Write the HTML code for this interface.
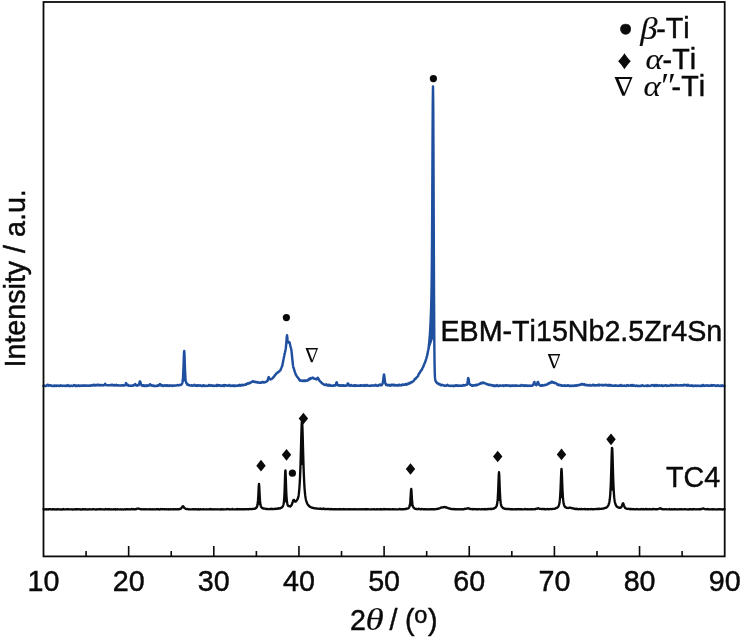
<!DOCTYPE html>
<html lang="en"><head><meta charset="utf-8"><title>XRD patterns</title>
<style>
html,body{margin:0;padding:0;background:#fff;}
body{width:745px;height:639px;overflow:hidden;}
svg{display:block;}
text{font-family:"Liberation Sans",sans-serif;fill:#0a0a0a;font-kerning:none;stroke:#0a0a0a;stroke-width:0.45px;}
.gr{font-family:"Liberation Serif","DejaVu Serif",serif;font-style:italic;}
.sym{font-family:"Liberation Serif","DejaVu Serif",serif;}
</style></head><body>
<svg width="745" height="639" viewBox="0 0 745 639">
<rect x="0" y="0" width="745" height="639" fill="#fff"/>
<path d="M43.50,385.76 L43.75,385.58 L44.00,385.54 L44.25,385.83 L44.50,385.90 L44.75,385.87 L45.00,385.86 L45.25,385.80 L45.50,385.97 L45.75,385.89 L46.00,386.00 L46.25,385.96 L46.50,385.73 L46.75,385.62 L47.00,385.45 L47.25,385.22 L47.50,384.77 L47.75,384.97 L48.00,384.82 L48.25,385.21 L48.50,385.47 L48.75,385.77 L49.00,385.36 L49.25,385.49 L49.50,385.43 L49.75,385.42 L50.00,385.18 L50.25,385.55 L50.50,385.47 L50.75,385.33 L51.00,385.50 L51.25,385.63 L51.50,385.71 L51.75,385.94 L52.00,385.90 L52.25,385.88 L52.50,385.95 L52.75,385.93 L53.00,385.68 L53.25,385.80 L53.50,385.93 L53.75,385.77 L54.00,385.91 L54.25,385.84 L54.50,385.97 L54.75,385.85 L55.00,385.44 L55.25,385.81 L55.50,385.82 L55.75,385.60 L56.00,385.99 L56.25,385.99 L56.50,385.80 L56.75,385.70 L57.00,385.54 L57.25,385.63 L57.50,385.71 L57.75,385.79 L58.00,385.88 L58.25,385.64 L58.50,385.65 L58.75,385.58 L59.00,385.83 L59.25,385.98 L59.50,385.99 L59.75,385.95 L60.00,385.89 L60.25,385.58 L60.50,385.29 L60.75,385.51 L61.00,385.88 L61.25,385.89 L61.50,385.80 L61.75,385.79 L62.00,385.81 L62.25,385.77 L62.50,385.97 L62.75,385.96 L63.00,385.83 L63.25,385.81 L63.50,385.87 L63.75,385.75 L64.00,385.80 L64.25,385.65 L64.50,385.89 L64.75,385.95 L65.00,385.75 L65.25,385.63 L65.50,385.61 L65.75,385.63 L66.00,385.75 L66.25,385.64 L66.50,385.99 L66.75,385.87 L67.00,385.62 L67.25,385.26 L67.50,385.10 L67.75,385.17 L68.00,385.13 L68.25,385.84 L68.50,385.92 L68.75,385.98 L69.00,385.78 L69.25,385.72 L69.50,385.82 L69.75,385.93 L70.00,385.81 L70.25,385.75 L70.50,385.95 L70.75,385.97 L71.00,385.96 L71.25,385.70 L71.50,385.65 L71.75,385.68 L72.00,385.87 L72.25,385.90 L72.50,385.87 L72.75,385.95 L73.00,385.88 L73.25,385.54 L73.50,385.31 L73.75,385.35 L74.00,385.08 L74.25,385.25 L74.50,385.29 L74.75,385.63 L75.00,385.41 L75.25,385.94 L75.50,385.81 L75.75,385.84 L76.00,385.93 L76.25,385.60 L76.50,385.75 L76.75,385.82 L77.00,385.57 L77.25,385.96 L77.50,385.89 L77.75,385.81 L78.00,385.84 L78.25,385.73 L78.50,385.79 L78.75,385.36 L79.00,385.68 L79.25,385.66 L79.50,385.92 L79.75,385.80 L80.00,385.69 L80.25,385.90 L80.50,385.83 L80.75,385.65 L81.00,385.58 L81.25,385.65 L81.50,385.46 L81.75,385.41 L82.00,385.70 L82.25,385.65 L82.50,385.51 L82.75,385.81 L83.00,385.61 L83.25,385.65 L83.50,385.73 L83.75,385.80 L84.00,385.42 L84.25,385.29 L84.50,385.55 L84.75,385.59 L85.00,385.57 L85.25,385.79 L85.50,385.73 L85.75,385.70 L86.00,385.48 L86.25,385.40 L86.50,385.55 L86.75,385.55 L87.00,385.62 L87.25,385.81 L87.50,385.71 L87.75,385.61 L88.00,385.81 L88.25,385.70 L88.50,385.67 L88.75,385.75 L89.00,385.55 L89.25,385.53 L89.50,385.41 L89.75,385.47 L90.00,385.72 L90.25,385.75 L90.50,385.70 L90.75,385.72 L91.00,385.58 L91.25,385.18 L91.50,385.20 L91.75,385.20 L92.00,385.25 L92.25,385.07 L92.50,385.43 L92.75,385.41 L93.00,385.48 L93.25,385.24 L93.50,385.16 L93.75,384.67 L94.00,385.02 L94.25,385.41 L94.50,385.41 L94.75,385.37 L95.00,385.09 L95.25,385.44 L95.50,385.44 L95.75,384.91 L96.00,385.13 L96.25,385.13 L96.50,384.93 L96.75,385.22 L97.00,385.44 L97.25,385.12 L97.50,385.07 L97.75,384.93 L98.00,384.62 L98.25,384.86 L98.50,385.12 L98.75,385.21 L99.00,385.21 L99.25,385.38 L99.50,385.10 L99.75,384.94 L100.00,384.90 L100.25,384.93 L100.50,385.11 L100.75,385.34 L101.00,385.09 L101.25,385.37 L101.50,385.07 L101.75,385.14 L102.00,385.20 L102.25,385.08 L102.50,385.24 L102.75,385.21 L103.00,385.21 L103.25,385.22 L103.50,385.43 L103.75,385.14 L104.00,385.27 L104.25,385.19 L104.50,385.05 L104.75,384.74 L105.00,383.94 L105.25,383.85 L105.50,384.48 L105.75,384.61 L106.00,384.76 L106.25,385.17 L106.50,385.32 L106.75,385.25 L107.00,385.25 L107.25,385.33 L107.50,385.15 L107.75,385.21 L108.00,385.14 L108.25,385.11 L108.50,385.29 L108.75,385.20 L109.00,385.31 L109.25,385.38 L109.50,385.14 L109.75,385.31 L110.00,385.22 L110.25,385.10 L110.50,385.22 L110.75,385.10 L111.00,385.16 L111.25,385.02 L111.50,384.72 L111.75,385.33 L112.00,385.12 L112.25,385.19 L112.50,385.07 L112.75,384.81 L113.00,385.24 L113.25,385.17 L113.50,385.40 L113.75,385.45 L114.00,385.26 L114.25,384.94 L114.50,385.01 L114.75,385.30 L115.00,385.25 L115.25,385.42 L115.50,385.44 L115.75,385.26 L116.00,385.08 L116.25,384.74 L116.50,384.99 L116.75,385.21 L117.00,385.42 L117.25,385.51 L117.50,385.29 L117.75,385.24 L118.00,385.21 L118.25,385.28 L118.50,385.41 L118.75,385.40 L119.00,385.42 L119.25,385.40 L119.50,385.37 L119.75,385.46 L120.00,385.42 L120.25,385.50 L120.50,385.42 L120.75,385.45 L121.00,385.61 L121.25,385.60 L121.50,385.21 L121.75,385.24 L122.00,385.14 L122.25,385.34 L122.50,385.18 L122.75,385.58 L123.00,385.41 L123.25,385.31 L123.50,385.57 L123.75,385.40 L124.00,385.49 L124.25,385.31 L124.50,385.42 L124.75,385.24 L125.00,385.20 L125.25,384.97 L125.50,384.48 L125.75,383.81 L126.00,383.12 L126.25,383.38 L126.50,384.35 L126.75,384.89 L127.00,385.30 L127.25,385.26 L127.50,385.08 L127.75,385.25 L128.00,384.76 L128.25,385.01 L128.50,385.41 L128.75,385.71 L129.00,385.76 L129.25,385.68 L129.50,385.71 L129.75,385.78 L130.00,385.69 L130.25,385.80 L130.50,385.64 L130.75,385.43 L131.00,385.64 L131.25,385.82 L131.50,385.78 L131.75,385.83 L132.00,385.77 L132.25,385.83 L132.50,385.79 L132.75,385.39 L133.00,385.27 L133.25,385.29 L133.50,385.57 L133.75,385.57 L134.00,385.28 L134.25,384.84 L134.50,384.82 L134.75,384.91 L135.00,384.32 L135.25,383.98 L135.50,384.35 L135.75,384.58 L136.00,384.96 L136.25,385.57 L136.50,385.32 L136.75,385.43 L137.00,385.53 L137.25,385.66 L137.50,385.37 L137.75,385.10 L138.00,385.22 L138.25,385.15 L138.50,385.23 L138.75,385.22 L139.00,384.39 L139.25,383.77 L139.50,382.46 L139.75,381.60 L140.00,381.34 L140.25,381.83 L140.50,382.77 L140.75,383.43 L141.00,384.32 L141.25,384.80 L141.50,385.14 L141.75,385.55 L142.00,385.68 L142.25,385.49 L142.50,385.59 L142.75,385.65 L143.00,385.42 L143.25,385.78 L143.50,385.62 L143.75,385.88 L144.00,385.67 L144.25,385.89 L144.50,385.79 L144.75,385.42 L145.00,385.88 L145.25,385.69 L145.50,385.59 L145.75,385.75 L146.00,385.46 L146.25,385.91 L146.50,385.56 L146.75,385.83 L147.00,385.48 L147.25,385.54 L147.50,385.30 L147.75,385.78 L148.00,385.74 L148.25,385.61 L148.50,385.48 L148.75,385.61 L149.00,385.61 L149.25,385.54 L149.50,384.97 L149.75,384.64 L150.00,384.16 L150.25,384.28 L150.50,384.79 L150.75,385.17 L151.00,385.26 L151.25,385.12 L151.50,385.25 L151.75,385.58 L152.00,385.37 L152.25,385.57 L152.50,385.69 L152.75,385.53 L153.00,385.53 L153.25,385.72 L153.50,385.91 L153.75,385.94 L154.00,385.70 L154.25,385.89 L154.50,385.93 L154.75,385.82 L155.00,385.93 L155.25,385.95 L155.50,385.92 L155.75,385.94 L156.00,385.81 L156.25,385.85 L156.50,385.91 L156.75,385.76 L157.00,385.94 L157.25,385.65 L157.50,385.75 L157.75,385.38 L158.00,385.20 L158.25,385.19 L158.50,385.68 L158.75,385.25 L159.00,385.17 L159.25,385.20 L159.50,384.71 L159.75,384.17 L160.00,384.06 L160.25,384.36 L160.50,385.01 L160.75,385.38 L161.00,385.55 L161.25,385.59 L161.50,385.54 L161.75,385.13 L162.00,385.61 L162.25,385.48 L162.50,385.71 L162.75,385.92 L163.00,385.60 L163.25,385.93 L163.50,385.53 L163.75,385.76 L164.00,385.86 L164.25,385.65 L164.50,385.40 L164.75,385.20 L165.00,385.53 L165.25,385.64 L165.50,385.57 L165.75,385.75 L166.00,385.86 L166.25,385.21 L166.50,385.47 L166.75,385.53 L167.00,385.78 L167.25,385.33 L167.50,385.79 L167.75,385.42 L168.00,385.44 L168.25,385.50 L168.50,385.84 L168.75,385.82 L169.00,385.93 L169.25,385.76 L169.50,385.44 L169.75,385.29 L170.00,385.34 L170.25,385.48 L170.50,385.62 L170.75,385.67 L171.00,385.67 L171.25,385.91 L171.50,385.57 L171.75,385.39 L172.00,385.51 L172.25,385.51 L172.50,385.85 L172.75,385.48 L173.00,385.49 L173.25,385.44 L173.50,385.56 L173.75,385.64 L174.00,385.82 L174.25,385.79 L174.50,385.84 L174.75,385.55 L175.00,385.52 L175.25,385.37 L175.50,385.44 L175.75,385.56 L176.00,385.47 L176.25,385.52 L176.50,385.36 L176.75,385.19 L177.00,385.13 L177.25,384.98 L177.50,384.97 L177.75,385.22 L178.00,385.28 L178.25,385.23 L178.50,385.51 L178.75,385.28 L179.00,385.17 L179.25,385.05 L179.50,385.10 L179.75,384.89 L180.00,385.04 L180.25,385.03 L180.50,385.01 L180.75,384.79 L181.00,384.84 L181.25,384.44 L181.50,384.26 L181.75,384.03 L182.00,383.75 L182.25,383.10 L182.50,382.04 L182.75,380.51 L183.00,377.65 L183.25,373.23 L183.50,367.05 L183.75,359.55 L184.00,353.01 L184.25,350.98 L184.50,355.10 L184.75,362.43 L185.00,369.56 L185.25,374.98 L185.50,378.92 L185.75,380.73 L186.00,382.10 L186.25,382.92 L186.50,383.04 L186.75,383.31 L187.00,384.27 L187.25,384.34 L187.50,384.82 L187.75,384.68 L188.00,384.39 L188.25,384.73 L188.50,384.78 L188.75,385.12 L189.00,385.36 L189.25,385.20 L189.50,385.33 L189.75,385.43 L190.00,385.43 L190.25,385.47 L190.50,385.58 L190.75,385.54 L191.00,385.47 L191.25,385.48 L191.50,385.28 L191.75,385.34 L192.00,385.42 L192.25,385.72 L192.50,385.43 L192.75,385.47 L193.00,385.52 L193.25,385.52 L193.50,385.41 L193.75,385.64 L194.00,385.44 L194.25,385.30 L194.50,384.84 L194.75,385.09 L195.00,385.32 L195.25,385.50 L195.50,385.56 L195.75,385.84 L196.00,385.65 L196.25,385.51 L196.50,385.42 L196.75,385.63 L197.00,385.76 L197.25,385.92 L197.50,385.22 L197.75,385.14 L198.00,385.19 L198.25,385.17 L198.50,385.57 L198.75,385.79 L199.00,385.68 L199.25,385.39 L199.50,385.56 L199.75,385.47 L200.00,385.43 L200.25,385.35 L200.50,385.71 L200.75,385.42 L201.00,385.59 L201.25,385.66 L201.50,385.94 L201.75,385.79 L202.00,385.87 L202.25,385.94 L202.50,385.81 L202.75,385.91 L203.00,385.65 L203.25,385.19 L203.50,385.65 L203.75,385.90 L204.00,385.93 L204.25,385.96 L204.50,385.50 L204.75,385.73 L205.00,385.62 L205.25,385.88 L205.50,385.94 L205.75,385.84 L206.00,385.76 L206.25,385.68 L206.50,385.89 L206.75,385.88 L207.00,385.86 L207.25,385.92 L207.50,385.96 L207.75,385.80 L208.00,385.89 L208.25,385.84 L208.50,385.38 L208.75,385.18 L209.00,385.06 L209.25,384.94 L209.50,384.88 L209.75,385.31 L210.00,385.84 L210.25,385.84 L210.50,385.79 L210.75,385.73 L211.00,385.46 L211.25,385.37 L211.50,385.47 L211.75,385.25 L212.00,385.38 L212.25,385.71 L212.50,385.87 L212.75,385.90 L213.00,385.82 L213.25,385.96 L213.50,385.89 L213.75,385.60 L214.00,385.86 L214.25,385.77 L214.50,385.79 L214.75,385.80 L215.00,385.94 L215.25,385.86 L215.50,385.58 L215.75,385.53 L216.00,385.52 L216.25,385.94 L216.50,385.89 L216.75,385.63 L217.00,385.31 L217.25,384.87 L217.50,385.37 L217.75,385.61 L218.00,385.37 L218.25,385.41 L218.50,385.66 L218.75,385.71 L219.00,385.30 L219.25,385.21 L219.50,385.20 L219.75,385.19 L220.00,385.47 L220.25,385.70 L220.50,385.92 L220.75,385.90 L221.00,385.90 L221.25,385.76 L221.50,385.78 L221.75,385.88 L222.00,385.67 L222.25,385.49 L222.50,385.44 L222.75,385.69 L223.00,385.20 L223.25,385.56 L223.50,385.66 L223.75,385.97 L224.00,385.58 L224.25,385.16 L224.50,385.70 L224.75,385.91 L225.00,385.64 L225.25,385.19 L225.50,385.20 L225.75,385.17 L226.00,385.39 L226.25,385.34 L226.50,385.48 L226.75,385.45 L227.00,385.75 L227.25,385.68 L227.50,385.85 L227.75,385.69 L228.00,385.40 L228.25,385.45 L228.50,385.80 L228.75,385.71 L229.00,385.36 L229.25,384.94 L229.50,385.05 L229.75,385.12 L230.00,385.49 L230.25,385.74 L230.50,385.92 L230.75,385.78 L231.00,385.85 L231.25,385.84 L231.50,385.66 L231.75,385.64 L232.00,385.93 L232.25,385.86 L232.50,385.89 L232.75,385.60 L233.00,385.41 L233.25,385.95 L233.50,385.93 L233.75,385.83 L234.00,385.88 L234.25,385.98 L234.50,385.51 L234.75,385.59 L235.00,385.74 L235.25,385.88 L235.50,385.64 L235.75,385.70 L236.00,385.70 L236.25,385.59 L236.50,385.80 L236.75,385.64 L237.00,385.71 L237.25,385.86 L237.50,385.62 L237.75,385.79 L238.00,385.86 L238.25,385.70 L238.50,385.80 L238.75,385.28 L239.00,385.25 L239.25,385.08 L239.50,384.85 L239.75,385.06 L240.00,385.47 L240.25,385.75 L240.50,385.50 L240.75,385.63 L241.00,385.60 L241.25,385.35 L241.50,384.82 L241.75,384.91 L242.00,385.04 L242.25,384.79 L242.50,385.05 L242.75,385.22 L243.00,385.18 L243.25,385.28 L243.50,385.10 L243.75,385.17 L244.00,384.87 L244.25,384.80 L244.50,384.68 L244.75,384.65 L245.00,384.84 L245.25,384.87 L245.50,384.66 L245.75,384.54 L246.00,384.13 L246.25,384.58 L246.50,384.44 L246.75,384.30 L247.00,383.86 L247.25,383.97 L247.50,383.57 L247.75,383.34 L248.00,383.50 L248.25,383.60 L248.50,383.67 L248.75,383.46 L249.00,383.48 L249.25,383.49 L249.50,382.80 L249.75,382.97 L250.00,382.82 L250.25,382.85 L250.50,382.77 L250.75,382.37 L251.00,382.36 L251.25,382.33 L251.50,382.21 L251.75,381.80 L252.00,381.83 L252.25,381.46 L252.50,381.13 L252.75,381.17 L253.00,381.31 L253.25,381.32 L253.50,381.35 L253.75,381.50 L254.00,381.71 L254.25,381.79 L254.50,381.83 L254.75,382.03 L255.00,381.90 L255.25,382.07 L255.50,381.82 L255.75,381.75 L256.00,382.24 L256.25,382.24 L256.50,382.32 L256.75,382.27 L257.00,382.03 L257.25,382.47 L257.50,382.60 L257.75,382.42 L258.00,382.25 L258.25,382.55 L258.50,382.49 L258.75,382.43 L259.00,382.66 L259.25,382.89 L259.50,382.83 L259.75,382.79 L260.00,382.72 L260.25,382.51 L260.50,382.83 L260.75,382.65 L261.00,382.44 L261.25,382.63 L261.50,382.48 L261.75,382.32 L262.00,382.22 L262.25,382.30 L262.50,382.05 L262.75,381.86 L263.00,382.38 L263.25,382.51 L263.50,382.44 L263.75,382.29 L264.00,382.55 L264.25,382.37 L264.50,382.33 L264.75,382.33 L265.00,382.26 L265.25,382.05 L265.50,381.91 L265.75,382.02 L266.00,381.73 L266.25,381.60 L266.50,381.70 L266.75,381.48 L267.00,381.19 L267.25,380.95 L267.50,380.89 L267.75,380.21 L268.00,379.07 L268.25,378.44 L268.50,377.42 L268.75,377.16 L269.00,377.58 L269.25,378.04 L269.50,378.71 L269.75,379.03 L270.00,379.31 L270.25,379.18 L270.50,379.43 L270.75,379.25 L271.00,379.28 L271.25,379.01 L271.50,379.11 L271.75,378.89 L272.00,378.69 L272.25,378.43 L272.50,378.24 L272.75,378.11 L273.00,377.78 L273.25,377.60 L273.50,376.84 L273.75,376.77 L274.00,376.70 L274.25,376.34 L274.50,375.90 L274.75,375.44 L275.00,375.38 L275.25,375.04 L275.50,374.62 L275.75,374.34 L276.00,374.06 L276.25,373.57 L276.50,373.37 L276.75,373.36 L277.00,373.17 L277.25,373.03 L277.50,372.54 L277.75,372.17 L278.00,372.28 L278.25,372.26 L278.50,372.01 L278.75,371.94 L279.00,371.52 L279.25,371.43 L279.50,371.14 L279.75,370.78 L280.00,370.51 L280.25,370.41 L280.50,370.03 L280.75,369.49 L281.00,368.74 L281.25,368.08 L281.50,367.34 L281.75,366.94 L282.00,366.30 L282.25,365.84 L282.50,364.59 L282.75,363.36 L283.00,362.07 L283.25,360.85 L283.50,359.23 L283.75,358.16 L284.00,356.90 L284.25,355.71 L284.50,354.36 L284.75,353.26 L285.00,352.28 L285.25,351.01 L285.50,350.01 L285.75,348.47 L286.00,346.13 L286.25,343.86 L286.50,340.65 L286.75,337.30 L287.00,335.32 L287.25,336.83 L287.50,339.15 L287.75,340.80 L288.00,341.84 L288.25,342.18 L288.50,342.56 L288.75,342.59 L289.00,342.04 L289.25,341.95 L289.50,342.32 L289.75,343.25 L290.00,344.17 L290.25,345.52 L290.50,346.44 L290.75,347.25 L291.00,348.22 L291.25,349.10 L291.50,350.97 L291.75,353.27 L292.00,355.92 L292.25,358.37 L292.50,360.68 L292.75,363.19 L293.00,365.38 L293.25,366.81 L293.50,367.73 L293.75,368.41 L294.00,369.12 L294.25,369.87 L294.50,370.95 L294.75,371.55 L295.00,372.48 L295.25,373.13 L295.50,373.91 L295.75,374.37 L296.00,374.96 L296.25,375.20 L296.50,375.80 L296.75,376.13 L297.00,376.58 L297.25,376.74 L297.50,377.39 L297.75,377.45 L298.00,377.79 L298.25,378.25 L298.50,378.36 L298.75,378.48 L299.00,379.28 L299.25,379.60 L299.50,380.06 L299.75,380.30 L300.00,380.58 L300.25,380.35 L300.50,380.60 L300.75,380.66 L301.00,380.48 L301.25,380.55 L301.50,380.53 L301.75,380.74 L302.00,380.77 L302.25,381.05 L302.50,381.07 L302.75,381.12 L303.00,380.64 L303.25,381.10 L303.50,381.10 L303.75,381.08 L304.00,381.12 L304.25,380.65 L304.50,380.94 L304.75,380.72 L305.00,380.56 L305.25,380.99 L305.50,380.61 L305.75,380.73 L306.00,380.60 L306.25,380.66 L306.50,380.80 L306.75,380.40 L307.00,380.44 L307.25,380.71 L307.50,380.41 L307.75,380.52 L308.00,380.36 L308.25,380.09 L308.50,379.67 L308.75,378.97 L309.00,379.02 L309.25,378.95 L309.50,379.16 L309.75,379.38 L310.00,378.61 L310.25,378.80 L310.50,378.39 L310.75,378.13 L311.00,378.48 L311.25,378.46 L311.50,378.47 L311.75,378.03 L312.00,378.04 L312.25,377.71 L312.50,377.68 L312.75,377.66 L313.00,377.95 L313.25,377.77 L313.50,378.31 L313.75,378.55 L314.00,378.49 L314.25,378.65 L314.50,378.72 L314.75,378.64 L315.00,378.81 L315.25,378.74 L315.50,379.06 L315.75,379.03 L316.00,379.37 L316.25,379.46 L316.50,379.31 L316.75,379.15 L317.00,378.52 L317.25,378.74 L317.50,378.51 L317.75,377.71 L318.00,377.89 L318.25,378.52 L318.50,378.72 L318.75,379.33 L319.00,380.22 L319.25,380.34 L319.50,380.74 L319.75,380.99 L320.00,381.29 L320.25,381.39 L320.50,381.76 L320.75,381.74 L321.00,382.05 L321.25,382.57 L321.50,382.99 L321.75,383.10 L322.00,383.05 L322.25,383.17 L322.50,383.54 L322.75,383.82 L323.00,383.93 L323.25,384.08 L323.50,384.25 L323.75,384.36 L324.00,384.57 L324.25,384.58 L324.50,384.77 L324.75,384.66 L325.00,384.63 L325.25,385.06 L325.50,385.08 L325.75,384.85 L326.00,384.74 L326.25,384.55 L326.50,384.38 L326.75,384.76 L327.00,385.32 L327.25,385.25 L327.50,385.51 L327.75,385.37 L328.00,385.54 L328.25,385.69 L328.50,385.29 L328.75,384.74 L329.00,384.85 L329.25,384.91 L329.50,384.87 L329.75,384.97 L330.00,385.54 L330.25,385.78 L330.50,385.78 L330.75,385.56 L331.00,385.44 L331.25,385.58 L331.50,385.66 L331.75,385.83 L332.00,385.68 L332.25,385.69 L332.50,385.63 L332.75,385.85 L333.00,385.78 L333.25,385.90 L333.50,385.63 L333.75,385.38 L334.00,385.27 L334.25,385.35 L334.50,385.29 L334.75,385.48 L335.00,385.61 L335.25,385.51 L335.50,385.23 L335.75,385.02 L336.00,384.13 L336.25,383.02 L336.50,382.45 L336.75,382.27 L337.00,383.11 L337.25,384.33 L337.50,385.04 L337.75,384.90 L338.00,385.43 L338.25,385.57 L338.50,385.56 L338.75,385.32 L339.00,385.46 L339.25,385.33 L339.50,385.25 L339.75,385.31 L340.00,385.77 L340.25,385.84 L340.50,385.78 L340.75,385.52 L341.00,385.35 L341.25,385.26 L341.50,385.17 L341.75,385.11 L342.00,385.31 L342.25,385.37 L342.50,385.82 L342.75,385.80 L343.00,385.73 L343.25,385.70 L343.50,385.23 L343.75,385.32 L344.00,385.27 L344.25,385.53 L344.50,385.77 L344.75,385.74 L345.00,385.61 L345.25,385.75 L345.50,385.82 L345.75,385.69 L346.00,385.80 L346.25,385.52 L346.50,385.33 L346.75,385.60 L347.00,385.54 L347.25,384.86 L347.50,383.81 L347.75,383.41 L348.00,383.38 L348.25,383.61 L348.50,384.62 L348.75,384.89 L349.00,385.49 L349.25,385.58 L349.50,385.68 L349.75,385.79 L350.00,385.76 L350.25,385.66 L350.50,385.34 L350.75,385.07 L351.00,384.89 L351.25,384.89 L351.50,385.38 L351.75,385.63 L352.00,385.79 L352.25,385.72 L352.50,385.77 L352.75,385.85 L353.00,385.84 L353.25,385.79 L353.50,385.61 L353.75,385.73 L354.00,385.50 L354.25,385.14 L354.50,385.34 L354.75,385.90 L355.00,385.78 L355.25,385.53 L355.50,385.16 L355.75,385.13 L356.00,385.79 L356.25,385.83 L356.50,385.70 L356.75,385.60 L357.00,385.71 L357.25,385.69 L357.50,385.82 L357.75,385.74 L358.00,385.61 L358.25,385.83 L358.50,385.87 L358.75,385.76 L359.00,385.71 L359.25,385.86 L359.50,385.72 L359.75,385.87 L360.00,385.82 L360.25,385.34 L360.50,385.61 L360.75,385.24 L361.00,385.31 L361.25,385.32 L361.50,385.69 L361.75,385.40 L362.00,385.43 L362.25,385.36 L362.50,385.44 L362.75,385.67 L363.00,385.74 L363.25,385.86 L363.50,385.66 L363.75,385.48 L364.00,385.19 L364.25,385.01 L364.50,385.08 L364.75,385.60 L365.00,385.89 L365.25,385.47 L365.50,385.48 L365.75,385.30 L366.00,385.78 L366.25,385.70 L366.50,385.13 L366.75,385.23 L367.00,385.10 L367.25,385.35 L367.50,385.44 L367.75,385.72 L368.00,385.79 L368.25,385.80 L368.50,385.65 L368.75,385.80 L369.00,385.81 L369.25,385.75 L369.50,385.78 L369.75,385.64 L370.00,385.82 L370.25,385.73 L370.50,385.85 L370.75,385.68 L371.00,385.81 L371.25,385.82 L371.50,385.82 L371.75,385.64 L372.00,385.30 L372.25,385.45 L372.50,385.61 L372.75,385.63 L373.00,385.58 L373.25,385.69 L373.50,385.47 L373.75,385.42 L374.00,385.47 L374.25,385.55 L374.50,385.58 L374.75,385.68 L375.00,385.51 L375.25,385.39 L375.50,385.12 L375.75,384.72 L376.00,385.05 L376.25,385.29 L376.50,385.64 L376.75,385.70 L377.00,385.65 L377.25,385.60 L377.50,385.75 L377.75,385.45 L378.00,385.54 L378.25,385.68 L378.50,385.52 L378.75,385.31 L379.00,384.99 L379.25,384.88 L379.50,385.00 L379.75,384.63 L380.00,384.49 L380.25,384.39 L380.50,384.61 L380.75,384.73 L381.00,385.36 L381.25,385.25 L381.50,385.17 L381.75,384.90 L382.00,384.81 L382.25,384.25 L382.50,383.79 L382.75,382.86 L383.00,381.80 L383.25,379.79 L383.50,377.75 L383.75,375.51 L384.00,374.46 L384.25,375.35 L384.50,377.67 L384.75,379.87 L385.00,381.50 L385.25,383.13 L385.50,383.72 L385.75,384.43 L386.00,384.60 L386.25,384.99 L386.50,384.91 L386.75,384.52 L387.00,384.87 L387.25,385.12 L387.50,385.37 L387.75,385.12 L388.00,385.12 L388.25,385.29 L388.50,385.28 L388.75,385.36 L389.00,384.80 L389.25,385.26 L389.50,385.27 L389.75,385.34 L390.00,385.66 L390.25,385.03 L390.50,385.52 L390.75,385.53 L391.00,385.31 L391.25,385.35 L391.50,384.64 L391.75,384.86 L392.00,384.71 L392.25,385.04 L392.50,385.09 L392.75,385.39 L393.00,385.33 L393.25,384.74 L393.50,384.76 L393.75,384.80 L394.00,384.80 L394.25,385.17 L394.50,385.55 L394.75,385.33 L395.00,385.15 L395.25,384.90 L395.50,385.02 L395.75,385.42 L396.00,385.49 L396.25,385.61 L396.50,385.33 L396.75,385.23 L397.00,385.31 L397.25,385.43 L397.50,385.51 L397.75,385.59 L398.00,385.54 L398.25,385.42 L398.50,384.89 L398.75,385.28 L399.00,385.46 L399.25,385.20 L399.50,385.11 L399.75,384.74 L400.00,385.05 L400.25,385.32 L400.50,385.33 L400.75,385.14 L401.00,385.13 L401.25,385.16 L401.50,385.36 L401.75,385.04 L402.00,384.89 L402.25,384.50 L402.50,384.55 L402.75,384.42 L403.00,384.72 L403.25,384.85 L403.50,384.82 L403.75,384.66 L404.00,384.63 L404.25,384.70 L404.50,384.89 L404.75,384.70 L405.00,384.57 L405.25,384.09 L405.50,384.44 L405.75,384.43 L406.00,384.64 L406.25,384.31 L406.50,384.46 L406.75,384.12 L407.00,384.43 L407.25,384.29 L407.50,383.75 L407.75,384.13 L408.00,383.72 L408.25,383.69 L408.50,383.66 L408.75,383.64 L409.00,383.74 L409.25,383.45 L409.50,382.80 L409.75,382.90 L410.00,382.77 L410.25,383.21 L410.50,382.86 L410.75,382.54 L411.00,382.36 L411.25,382.26 L411.50,382.44 L411.75,382.32 L412.00,381.86 L412.25,381.76 L412.50,381.40 L412.75,381.37 L413.00,381.46 L413.25,381.24 L413.50,380.97 L413.75,380.82 L414.00,380.53 L414.25,380.37 L414.50,379.65 L414.75,379.10 L415.00,378.91 L415.25,378.66 L415.50,378.74 L415.75,378.70 L416.00,378.09 L416.25,377.74 L416.50,377.40 L416.75,377.38 L417.00,377.16 L417.25,376.99 L417.50,376.51 L417.75,376.35 L418.00,376.04 L418.25,375.30 L418.50,374.76 L418.75,373.90 L419.00,373.87 L419.25,373.44 L419.50,372.88 L419.75,372.85 L420.00,372.49 L420.25,371.72 L420.50,371.35 L420.75,371.26 L421.00,370.36 L421.25,370.24 L421.50,370.01 L421.75,369.77 L422.00,369.35 L422.25,368.52 L422.50,368.11 L422.75,367.55 L423.00,367.26 L423.25,366.59 L423.50,366.14 L423.75,365.34 L424.00,364.65 L424.25,364.21 L424.50,363.35 L424.75,362.98 L425.00,362.46 L425.25,361.79 L425.50,361.28 L425.75,360.01 L426.00,359.68 L426.25,358.75 L426.50,357.51 L426.75,356.75 L427.00,356.06 L427.25,354.89 L427.50,353.91 L427.75,352.47 L428.00,351.14 L428.25,349.93 L428.50,348.12 L428.75,346.40 L429.00,344.33 L429.25,342.11 L429.50,339.27 L429.75,336.44 L430.00,332.83 L430.25,328.87 L430.50,323.92 L430.75,318.36 L431.00,312.03 L431.25,303.90 L431.50,293.19 L431.75,275.98 L432.00,246.94 L432.25,203.93 L432.50,151.06 L432.75,105.25 L433.00,86.56 L433.25,107.67 L433.50,162.83 L433.75,230.73 L434.00,291.88 L434.25,335.16 L434.50,360.10 L434.75,372.37 L435.00,377.91 L435.25,379.80 L435.50,380.71 L435.75,381.45 L436.00,381.83 L436.25,382.04 L436.50,382.51 L436.75,382.78 L437.00,383.10 L437.25,383.26 L437.50,383.25 L437.75,383.10 L438.00,383.46 L438.25,383.67 L438.50,383.89 L438.75,384.34 L439.00,384.11 L439.25,384.38 L439.50,384.00 L439.75,384.05 L440.00,384.43 L440.25,384.50 L440.50,384.51 L440.75,385.13 L441.00,385.30 L441.25,385.33 L441.50,384.95 L441.75,384.90 L442.00,385.05 L442.25,384.99 L442.50,384.76 L442.75,385.09 L443.00,385.15 L443.25,385.25 L443.50,385.14 L443.75,385.59 L444.00,385.45 L444.25,385.44 L444.50,385.68 L444.75,385.78 L445.00,385.58 L445.25,385.67 L445.50,385.71 L445.75,385.72 L446.00,385.86 L446.25,385.58 L446.50,385.60 L446.75,385.52 L447.00,385.40 L447.25,385.16 L447.50,384.82 L447.75,385.08 L448.00,385.29 L448.25,385.32 L448.50,385.55 L448.75,385.78 L449.00,385.81 L449.25,385.78 L449.50,385.67 L449.75,385.64 L450.00,385.83 L450.25,385.71 L450.50,385.90 L450.75,385.78 L451.00,385.88 L451.25,385.85 L451.50,385.82 L451.75,385.75 L452.00,385.89 L452.25,385.93 L452.50,385.90 L452.75,385.79 L453.00,385.49 L453.25,385.97 L453.50,385.86 L453.75,385.96 L454.00,385.95 L454.25,385.89 L454.50,385.80 L454.75,385.91 L455.00,385.59 L455.25,385.45 L455.50,385.16 L455.75,385.23 L456.00,385.15 L456.25,385.78 L456.50,385.84 L456.75,385.84 L457.00,385.75 L457.25,385.25 L457.50,385.67 L457.75,385.62 L458.00,385.55 L458.25,385.55 L458.50,385.89 L458.75,385.81 L459.00,385.65 L459.25,385.56 L459.50,385.65 L459.75,385.72 L460.00,385.58 L460.25,385.70 L460.50,385.71 L460.75,385.65 L461.00,385.83 L461.25,385.71 L461.50,385.81 L461.75,385.50 L462.00,385.57 L462.25,385.63 L462.50,385.70 L462.75,385.55 L463.00,385.16 L463.25,385.16 L463.50,384.95 L463.75,385.11 L464.00,385.42 L464.25,385.26 L464.50,385.40 L464.75,385.18 L465.00,385.12 L465.25,384.99 L465.50,385.13 L465.75,384.73 L466.00,384.73 L466.25,384.73 L466.50,384.74 L466.75,384.75 L467.00,384.33 L467.25,383.56 L467.50,382.20 L467.75,380.63 L468.00,378.57 L468.25,378.06 L468.50,378.53 L468.75,379.98 L469.00,381.59 L469.25,383.00 L469.50,384.12 L469.75,384.44 L470.00,384.64 L470.25,384.69 L470.50,384.78 L470.75,384.95 L471.00,384.94 L471.25,384.98 L471.50,385.22 L471.75,385.64 L472.00,385.69 L472.25,385.75 L472.50,385.49 L472.75,385.60 L473.00,385.76 L473.25,385.65 L473.50,385.37 L473.75,385.58 L474.00,385.56 L474.25,385.34 L474.50,385.28 L474.75,385.21 L475.00,385.32 L475.25,385.04 L475.50,385.29 L475.75,384.89 L476.00,385.38 L476.25,385.16 L476.50,385.25 L476.75,384.96 L477.00,385.10 L477.25,384.84 L477.50,384.85 L477.75,384.73 L478.00,384.75 L478.25,384.57 L478.50,384.28 L478.75,384.30 L479.00,384.19 L479.25,384.15 L479.50,383.84 L479.75,383.75 L480.00,383.80 L480.25,383.36 L480.50,383.11 L480.75,383.26 L481.00,383.46 L481.25,382.98 L481.50,382.88 L481.75,382.85 L482.00,383.24 L482.25,383.01 L482.50,382.85 L482.75,382.86 L483.00,382.41 L483.25,382.74 L483.50,382.99 L483.75,382.84 L484.00,382.78 L484.25,383.24 L484.50,383.26 L484.75,383.20 L485.00,383.32 L485.25,383.42 L485.50,383.53 L485.75,383.63 L486.00,383.61 L486.25,383.71 L486.50,384.07 L486.75,383.99 L487.00,384.25 L487.25,384.34 L487.50,384.30 L487.75,384.54 L488.00,384.58 L488.25,384.50 L488.50,384.84 L488.75,384.92 L489.00,385.07 L489.25,384.57 L489.50,384.93 L489.75,385.05 L490.00,384.89 L490.25,384.89 L490.50,385.09 L490.75,384.75 L491.00,384.86 L491.25,385.02 L491.50,384.90 L491.75,385.31 L492.00,385.33 L492.25,385.23 L492.50,385.31 L492.75,385.73 L493.00,385.33 L493.25,385.89 L493.50,385.92 L493.75,385.87 L494.00,385.93 L494.25,385.45 L494.50,385.87 L494.75,385.54 L495.00,385.72 L495.25,385.56 L495.50,385.95 L495.75,385.94 L496.00,385.78 L496.25,385.59 L496.50,385.77 L496.75,385.23 L497.00,385.10 L497.25,385.59 L497.50,385.52 L497.75,385.75 L498.00,385.95 L498.25,385.80 L498.50,385.76 L498.75,385.99 L499.00,385.76 L499.25,385.96 L499.50,385.64 L499.75,385.84 L500.00,385.59 L500.25,385.48 L500.50,385.40 L500.75,385.53 L501.00,385.48 L501.25,385.63 L501.50,385.81 L501.75,385.85 L502.00,385.79 L502.25,385.48 L502.50,385.49 L502.75,385.45 L503.00,385.31 L503.25,385.44 L503.50,385.88 L503.75,385.72 L504.00,385.50 L504.25,385.38 L504.50,385.59 L504.75,385.59 L505.00,385.72 L505.25,385.80 L505.50,385.75 L505.75,385.34 L506.00,385.37 L506.25,385.29 L506.50,385.41 L506.75,385.34 L507.00,385.51 L507.25,385.62 L507.50,385.57 L507.75,385.75 L508.00,385.51 L508.25,385.58 L508.50,385.44 L508.75,385.63 L509.00,385.58 L509.25,385.53 L509.50,385.57 L509.75,385.98 L510.00,385.90 L510.25,385.89 L510.50,385.91 L510.75,385.99 L511.00,385.59 L511.25,385.64 L511.50,385.52 L511.75,385.78 L512.00,385.50 L512.25,385.79 L512.50,385.50 L512.75,385.51 L513.00,385.82 L513.25,385.84 L513.50,385.92 L513.75,385.39 L514.00,385.45 L514.25,385.73 L514.50,385.65 L514.75,385.46 L515.00,385.84 L515.25,385.90 L515.50,385.82 L515.75,385.48 L516.00,385.34 L516.25,385.46 L516.50,385.55 L516.75,385.74 L517.00,385.97 L517.25,385.92 L517.50,385.86 L517.75,385.80 L518.00,385.81 L518.25,385.85 L518.50,385.78 L518.75,385.84 L519.00,385.72 L519.25,385.74 L519.50,385.69 L519.75,385.61 L520.00,385.66 L520.25,385.87 L520.50,385.62 L520.75,385.44 L521.00,385.43 L521.25,384.92 L521.50,385.23 L521.75,385.48 L522.00,385.51 L522.25,385.44 L522.50,385.58 L522.75,385.64 L523.00,385.25 L523.25,385.46 L523.50,385.39 L523.75,385.82 L524.00,385.49 L524.25,385.93 L524.50,385.78 L524.75,385.74 L525.00,385.33 L525.25,385.86 L525.50,385.86 L525.75,385.86 L526.00,385.71 L526.25,385.47 L526.50,385.60 L526.75,385.54 L527.00,385.72 L527.25,385.56 L527.50,385.67 L527.75,385.92 L528.00,385.78 L528.25,385.82 L528.50,385.88 L528.75,385.87 L529.00,385.42 L529.25,385.74 L529.50,385.57 L529.75,385.76 L530.00,385.69 L530.25,385.82 L530.50,385.90 L530.75,385.76 L531.00,385.62 L531.25,385.69 L531.50,385.75 L531.75,385.63 L532.00,385.76 L532.25,385.21 L532.50,385.44 L532.75,385.51 L533.00,384.98 L533.25,384.51 L533.50,384.22 L533.75,383.38 L534.00,382.52 L534.25,382.03 L534.50,382.03 L534.75,383.04 L535.00,383.77 L535.25,384.17 L535.50,384.70 L535.75,384.99 L536.00,384.99 L536.25,385.27 L536.50,384.89 L536.75,384.80 L537.00,384.16 L537.25,383.58 L537.50,382.55 L537.75,381.93 L538.00,382.00 L538.25,382.59 L538.50,383.16 L538.75,384.15 L539.00,384.51 L539.25,384.44 L539.50,384.77 L539.75,385.05 L540.00,385.45 L540.25,385.68 L540.50,385.49 L540.75,385.48 L541.00,385.46 L541.25,385.61 L541.50,385.78 L541.75,385.79 L542.00,385.13 L542.25,384.94 L542.50,385.24 L542.75,385.41 L543.00,385.33 L543.25,385.37 L543.50,385.64 L543.75,385.57 L544.00,385.38 L544.25,385.11 L544.50,385.08 L544.75,385.00 L545.00,384.74 L545.25,384.74 L545.50,385.04 L545.75,385.03 L546.00,384.86 L546.25,384.85 L546.50,384.72 L546.75,384.54 L547.00,384.31 L547.25,384.47 L547.50,384.36 L547.75,384.17 L548.00,384.10 L548.25,383.96 L548.50,383.28 L548.75,383.07 L549.00,383.15 L549.25,383.33 L549.50,383.18 L549.75,382.88 L550.00,383.04 L550.25,382.79 L550.50,382.91 L550.75,382.51 L551.00,382.73 L551.25,382.42 L551.50,381.71 L551.75,382.03 L552.00,382.29 L552.25,382.13 L552.50,382.56 L552.75,382.13 L553.00,382.45 L553.25,382.51 L553.50,382.68 L553.75,382.44 L554.00,382.58 L554.25,382.71 L554.50,382.72 L554.75,383.22 L555.00,383.05 L555.25,383.10 L555.50,383.04 L555.75,383.00 L556.00,383.18 L556.25,383.47 L556.50,383.41 L556.75,383.81 L557.00,384.07 L557.25,384.44 L557.50,384.50 L557.75,384.38 L558.00,384.92 L558.25,384.95 L558.50,384.95 L558.75,385.04 L559.00,385.24 L559.25,384.84 L559.50,385.05 L559.75,384.80 L560.00,384.94 L560.25,385.13 L560.50,385.28 L560.75,385.13 L561.00,385.23 L561.25,385.58 L561.50,385.37 L561.75,385.79 L562.00,385.63 L562.25,385.47 L562.50,385.78 L562.75,385.62 L563.00,385.60 L563.25,385.89 L563.50,385.88 L563.75,385.49 L564.00,385.63 L564.25,385.59 L564.50,385.52 L564.75,385.38 L565.00,385.79 L565.25,385.48 L565.50,385.97 L565.75,385.71 L566.00,385.59 L566.25,385.79 L566.50,385.76 L566.75,385.83 L567.00,385.76 L567.25,385.63 L567.50,385.32 L567.75,385.68 L568.00,385.43 L568.25,385.33 L568.50,385.50 L568.75,385.77 L569.00,385.75 L569.25,385.89 L569.50,385.98 L569.75,385.82 L570.00,385.98 L570.25,385.81 L570.50,385.66 L570.75,385.97 L571.00,385.81 L571.25,385.93 L571.50,385.97 L571.75,385.90 L572.00,385.58 L572.25,385.64 L572.50,385.68 L572.75,385.87 L573.00,385.96 L573.25,385.80 L573.50,385.82 L573.75,385.95 L574.00,385.54 L574.25,385.73 L574.50,385.70 L574.75,385.50 L575.00,385.47 L575.25,385.78 L575.50,385.59 L575.75,385.56 L576.00,385.32 L576.25,385.42 L576.50,385.71 L576.75,385.35 L577.00,385.50 L577.25,385.13 L577.50,385.31 L577.75,385.33 L578.00,385.30 L578.25,384.93 L578.50,385.32 L578.75,385.22 L579.00,385.21 L579.25,384.93 L579.50,384.94 L579.75,384.82 L580.00,384.97 L580.25,384.79 L580.50,384.63 L580.75,384.71 L581.00,384.16 L581.25,384.13 L581.50,384.06 L581.75,384.04 L582.00,383.80 L582.25,384.41 L582.50,384.28 L582.75,384.49 L583.00,384.67 L583.25,384.43 L583.50,384.47 L583.75,384.22 L584.00,384.19 L584.25,384.38 L584.50,384.34 L584.75,384.99 L585.00,385.14 L585.25,385.12 L585.50,385.13 L585.75,385.30 L586.00,384.89 L586.25,384.79 L586.50,384.88 L586.75,385.01 L587.00,384.93 L587.25,385.12 L587.50,385.08 L587.75,385.14 L588.00,385.52 L588.25,385.37 L588.50,385.39 L588.75,385.53 L589.00,385.51 L589.25,384.87 L589.50,384.89 L589.75,384.81 L590.00,385.11 L590.25,385.25 L590.50,385.57 L590.75,385.62 L591.00,385.60 L591.25,385.61 L591.50,385.57 L591.75,385.54 L592.00,385.25 L592.25,385.16 L592.50,384.96 L592.75,384.85 L593.00,384.76 L593.25,385.40 L593.50,385.42 L593.75,385.25 L594.00,384.95 L594.25,385.22 L594.50,385.30 L594.75,385.43 L595.00,385.13 L595.25,385.42 L595.50,385.27 L595.75,385.38 L596.00,385.45 L596.25,385.43 L596.50,385.16 L596.75,385.23 L597.00,385.27 L597.25,385.25 L597.50,385.01 L597.75,385.40 L598.00,385.29 L598.25,384.90 L598.50,384.80 L598.75,384.74 L599.00,384.62 L599.25,384.91 L599.50,385.34 L599.75,385.06 L600.00,385.05 L600.25,385.16 L600.50,385.15 L600.75,384.96 L601.00,385.04 L601.25,384.88 L601.50,384.90 L601.75,384.80 L602.00,385.34 L602.25,385.30 L602.50,385.10 L602.75,385.09 L603.00,385.43 L603.25,385.40 L603.50,385.13 L603.75,385.08 L604.00,385.01 L604.25,385.05 L604.50,385.36 L604.75,385.40 L605.00,385.03 L605.25,384.95 L605.50,385.03 L605.75,384.74 L606.00,384.73 L606.25,385.19 L606.50,385.00 L606.75,385.19 L607.00,385.47 L607.25,385.42 L607.50,385.58 L607.75,385.20 L608.00,384.99 L608.25,384.97 L608.50,385.22 L608.75,385.63 L609.00,385.38 L609.25,384.89 L609.50,384.83 L609.75,385.11 L610.00,385.42 L610.25,385.67 L610.50,385.29 L610.75,385.41 L611.00,385.38 L611.25,385.15 L611.50,385.42 L611.75,385.56 L612.00,385.74 L612.25,385.77 L612.50,385.65 L612.75,385.70 L613.00,385.69 L613.25,385.64 L613.50,385.58 L613.75,385.77 L614.00,385.82 L614.25,385.56 L614.50,385.75 L614.75,385.76 L615.00,385.77 L615.25,385.69 L615.50,385.39 L615.75,385.60 L616.00,385.82 L616.25,385.87 L616.50,385.70 L616.75,385.80 L617.00,385.54 L617.25,385.78 L617.50,385.67 L617.75,385.60 L618.00,385.64 L618.25,385.86 L618.50,385.91 L618.75,385.77 L619.00,385.76 L619.25,385.60 L619.50,385.67 L619.75,385.83 L620.00,385.80 L620.25,385.28 L620.50,385.26 L620.75,384.89 L621.00,384.93 L621.25,385.24 L621.50,385.95 L621.75,385.86 L622.00,385.78 L622.25,385.85 L622.50,385.81 L622.75,385.65 L623.00,385.56 L623.25,385.80 L623.50,385.83 L623.75,385.88 L624.00,385.82 L624.25,385.64 L624.50,385.88 L624.75,385.80 L625.00,385.82 L625.25,385.73 L625.50,385.87 L625.75,385.98 L626.00,385.76 L626.25,385.96 L626.50,385.93 L626.75,385.68 L627.00,385.34 L627.25,385.54 L627.50,385.56 L627.75,385.09 L628.00,385.28 L628.25,385.38 L628.50,385.51 L628.75,385.69 L629.00,385.64 L629.25,385.64 L629.50,385.62 L629.75,385.60 L630.00,385.65 L630.25,385.63 L630.50,385.50 L630.75,385.16 L631.00,385.37 L631.25,385.79 L631.50,385.44 L631.75,385.22 L632.00,385.07 L632.25,385.39 L632.50,385.78 L632.75,385.17 L633.00,384.98 L633.25,385.26 L633.50,385.52 L633.75,385.75 L634.00,385.60 L634.25,385.45 L634.50,385.37 L634.75,385.67 L635.00,385.86 L635.25,385.86 L635.50,385.97 L635.75,386.00 L636.00,385.67 L636.25,385.80 L636.50,385.52 L636.75,385.86 L637.00,385.92 L637.25,385.75 L637.50,385.94 L637.75,385.96 L638.00,385.84 L638.25,385.81 L638.50,385.83 L638.75,385.95 L639.00,385.95 L639.25,385.96 L639.50,385.94 L639.75,385.95 L640.00,386.00 L640.25,385.81 L640.50,385.83 L640.75,385.69 L641.00,385.76 L641.25,385.90 L641.50,385.87 L641.75,385.54 L642.00,385.64 L642.25,385.37 L642.50,385.08 L642.75,385.51 L643.00,385.64 L643.25,385.80 L643.50,385.87 L643.75,385.86 L644.00,385.87 L644.25,385.91 L644.50,385.94 L644.75,385.97 L645.00,385.89 L645.25,385.83 L645.50,385.86 L645.75,385.82 L646.00,385.77 L646.25,385.71 L646.50,385.99 L646.75,385.58 L647.00,385.69 L647.25,385.59 L647.50,385.38 L647.75,385.94 L648.00,385.63 L648.25,385.56 L648.50,385.75 L648.75,385.64 L649.00,385.96 L649.25,385.90 L649.50,385.95 L649.75,385.70 L650.00,385.74 L650.25,385.64 L650.50,385.64 L650.75,385.74 L651.00,385.80 L651.25,385.66 L651.50,385.37 L651.75,385.12 L652.00,385.07 L652.25,385.13 L652.50,385.06 L652.75,385.13 L653.00,385.30 L653.25,385.45 L653.50,385.69 L653.75,385.85 L654.00,385.97 L654.25,385.60 L654.50,385.45 L654.75,385.03 L655.00,385.01 L655.25,385.15 L655.50,385.23 L655.75,385.47 L656.00,385.99 L656.25,386.00 L656.50,385.70 L656.75,385.06 L657.00,385.41 L657.25,385.37 L657.50,385.31 L657.75,385.54 L658.00,385.71 L658.25,385.62 L658.50,385.91 L658.75,385.86 L659.00,385.64 L659.25,385.46 L659.50,385.33 L659.75,385.24 L660.00,385.50 L660.25,385.62 L660.50,385.71 L660.75,385.63 L661.00,385.67 L661.25,385.47 L661.50,385.49 L661.75,385.31 L662.00,385.82 L662.25,385.95 L662.50,385.93 L662.75,385.93 L663.00,385.70 L663.25,385.95 L663.50,385.73 L663.75,385.65 L664.00,385.62 L664.25,385.74 L664.50,385.56 L664.75,385.58 L665.00,385.49 L665.25,385.44 L665.50,385.29 L665.75,385.36 L666.00,385.31 L666.25,385.48 L666.50,385.92 L666.75,385.83 L667.00,385.83 L667.25,385.60 L667.50,385.57 L667.75,385.78 L668.00,385.91 L668.25,385.85 L668.50,385.89 L668.75,385.77 L669.00,385.68 L669.25,385.70 L669.50,385.77 L669.75,385.64 L670.00,385.55 L670.25,385.54 L670.50,385.12 L670.75,384.91 L671.00,385.38 L671.25,385.66 L671.50,385.37 L671.75,385.64 L672.00,385.63 L672.25,385.27 L672.50,385.48 L672.75,385.16 L673.00,385.16 L673.25,384.95 L673.50,385.47 L673.75,385.41 L674.00,385.46 L674.25,385.37 L674.50,385.63 L674.75,385.63 L675.00,385.41 L675.25,385.55 L675.50,385.58 L675.75,384.96 L676.00,384.93 L676.25,384.93 L676.50,384.87 L676.75,385.35 L677.00,385.50 L677.25,385.42 L677.50,385.21 L677.75,385.41 L678.00,385.48 L678.25,385.39 L678.50,385.49 L678.75,385.46 L679.00,385.36 L679.25,385.37 L679.50,385.45 L679.75,385.23 L680.00,385.27 L680.25,385.25 L680.50,385.34 L680.75,385.49 L681.00,385.25 L681.25,385.49 L681.50,385.26 L681.75,385.17 L682.00,385.40 L682.25,385.51 L682.50,385.52 L682.75,385.24 L683.00,385.27 L683.25,385.51 L683.50,385.27 L683.75,385.19 L684.00,384.83 L684.25,384.82 L684.50,385.04 L684.75,385.16 L685.00,385.07 L685.25,384.94 L685.50,384.90 L685.75,385.19 L686.00,385.13 L686.25,385.27 L686.50,385.64 L686.75,385.07 L687.00,385.47 L687.25,385.40 L687.50,385.63 L687.75,385.65 L688.00,384.82 L688.25,385.02 L688.50,385.01 L688.75,385.30 L689.00,385.55 L689.25,385.67 L689.50,385.60 L689.75,385.67 L690.00,385.83 L690.25,385.81 L690.50,385.59 L690.75,385.60 L691.00,385.78 L691.25,385.44 L691.50,385.28 L691.75,385.75 L692.00,385.41 L692.25,385.52 L692.50,385.92 L692.75,385.62 L693.00,385.71 L693.25,385.93 L693.50,385.92 L693.75,385.95 L694.00,385.73 L694.25,385.74 L694.50,385.94 L694.75,385.77 L695.00,385.85 L695.25,385.84 L695.50,385.56 L695.75,385.73 L696.00,385.78 L696.25,385.89 L696.50,385.94 L696.75,385.92 L697.00,385.70 L697.25,385.59 L697.50,385.83 L697.75,385.73 L698.00,385.83 L698.25,385.78 L698.50,385.73 L698.75,385.80 L699.00,385.93 L699.25,385.94 L699.50,385.90 L699.75,385.83 L700.00,385.80 L700.25,385.83 L700.50,385.98 L700.75,385.65 L701.00,385.54 L701.25,385.44 L701.50,385.67 L701.75,385.68 L702.00,385.96 L702.25,385.74 L702.50,385.76 L702.75,385.51 L703.00,384.91 L703.25,385.33 L703.50,385.17 L703.75,385.49 L704.00,385.84 L704.25,385.91 L704.50,385.69 L704.75,385.82 L705.00,385.60 L705.25,385.31 L705.50,385.70 L705.75,385.68 L706.00,385.66 L706.25,385.61 L706.50,385.57 L706.75,385.26 L707.00,385.44 L707.25,385.43 L707.50,385.73 L707.75,385.70 L708.00,385.50 L708.25,385.68 L708.50,385.84 L708.75,385.47 L709.00,385.39 L709.25,385.67 L709.50,385.87 L709.75,385.76 L710.00,385.87 L710.25,385.55 L710.50,385.54 L710.75,385.77 L711.00,385.83 L711.25,385.39 L711.50,385.10 L711.75,385.07 L712.00,385.18 L712.25,385.44 L712.50,385.80 L712.75,385.57 L713.00,385.24 L713.25,385.28 L713.50,385.36 L713.75,385.37 L714.00,385.21 L714.25,385.16 L714.50,385.36 L714.75,385.41 L715.00,385.78 L715.25,385.78 L715.50,385.60 L715.75,385.56 L716.00,385.83 L716.25,385.60 L716.50,385.57 L716.75,385.55 L717.00,385.88 L717.25,385.55 L717.50,385.70 L717.75,385.34 L718.00,385.52 L718.25,385.74 L718.50,385.58 L718.75,385.91 L719.00,385.96 L719.25,385.96 L719.50,385.86 L719.75,385.79 L720.00,385.71 L720.25,385.71 L720.50,385.99 L720.75,385.99 L721.00,385.50 L721.25,385.78 L721.50,385.49 L721.75,385.95 L722.00,385.81 L722.25,385.48 L722.50,385.80 L722.75,385.46 L723.00,385.89 L723.25,385.99 L723.50,385.99 L723.75,385.93 L724.00,385.73 L724.25,385.73 L724.50,385.83" fill="none" stroke="#1f4f9f" stroke-width="2.45" stroke-linejoin="round" stroke-linecap="round"/>
<path d="M43.50,509.18 L43.75,509.19 L44.00,509.18 L44.25,509.27 L44.50,509.49 L44.75,509.43 L45.00,509.41 L45.25,509.38 L45.50,509.30 L45.75,509.42 L46.00,509.44 L46.25,509.47 L46.50,509.27 L46.75,509.19 L47.00,509.17 L47.25,509.25 L47.50,509.42 L47.75,509.46 L48.00,509.40 L48.25,509.47 L48.50,509.32 L48.75,509.24 L49.00,509.14 L49.25,509.07 L49.50,509.13 L49.75,509.20 L50.00,509.16 L50.25,509.22 L50.50,509.29 L50.75,509.26 L51.00,509.40 L51.25,509.47 L51.50,509.39 L51.75,509.39 L52.00,509.40 L52.25,509.49 L52.50,509.38 L52.75,509.19 L53.00,509.08 L53.25,509.29 L53.50,509.08 L53.75,509.16 L54.00,509.29 L54.25,509.43 L54.50,509.32 L54.75,509.47 L55.00,509.49 L55.25,509.37 L55.50,509.41 L55.75,509.45 L56.00,509.48 L56.25,509.41 L56.50,509.43 L56.75,509.46 L57.00,509.29 L57.25,509.31 L57.50,509.23 L57.75,509.41 L58.00,509.31 L58.25,509.42 L58.50,509.40 L58.75,509.21 L59.00,509.40 L59.25,509.34 L59.50,509.31 L59.75,509.49 L60.00,509.35 L60.25,509.36 L60.50,509.39 L60.75,509.34 L61.00,509.32 L61.25,509.45 L61.50,509.40 L61.75,509.46 L62.00,509.33 L62.25,509.48 L62.50,509.33 L62.75,509.27 L63.00,509.12 L63.25,508.99 L63.50,509.13 L63.75,509.32 L64.00,509.38 L64.25,509.48 L64.50,509.41 L64.75,509.36 L65.00,509.32 L65.25,509.40 L65.50,509.35 L65.75,509.34 L66.00,509.41 L66.25,509.40 L66.50,509.25 L66.75,509.12 L67.00,509.13 L67.25,509.28 L67.50,509.28 L67.75,509.35 L68.00,509.30 L68.25,509.27 L68.50,509.19 L68.75,509.21 L69.00,509.36 L69.25,509.42 L69.50,509.39 L69.75,509.37 L70.00,509.35 L70.25,509.39 L70.50,509.34 L70.75,509.31 L71.00,509.40 L71.25,509.42 L71.50,509.35 L71.75,509.28 L72.00,509.37 L72.25,509.46 L72.50,509.47 L72.75,509.48 L73.00,509.49 L73.25,509.49 L73.50,509.39 L73.75,509.44 L74.00,509.45 L74.25,509.38 L74.50,509.33 L74.75,509.38 L75.00,509.28 L75.25,509.14 L75.50,509.28 L75.75,509.26 L76.00,509.34 L76.25,509.47 L76.50,509.21 L76.75,509.32 L77.00,509.12 L77.25,509.26 L77.50,509.25 L77.75,509.35 L78.00,509.24 L78.25,509.41 L78.50,509.40 L78.75,509.38 L79.00,509.27 L79.25,509.18 L79.50,509.25 L79.75,509.24 L80.00,509.37 L80.25,509.44 L80.50,509.47 L80.75,509.47 L81.00,509.47 L81.25,509.49 L81.50,509.49 L81.75,509.44 L82.00,509.49 L82.25,509.35 L82.50,509.27 L82.75,509.43 L83.00,509.28 L83.25,509.16 L83.50,509.35 L83.75,509.27 L84.00,509.35 L84.25,509.36 L84.50,509.45 L84.75,509.39 L85.00,509.18 L85.25,509.41 L85.50,509.17 L85.75,509.36 L86.00,509.42 L86.25,509.41 L86.50,509.40 L86.75,509.45 L87.00,509.44 L87.25,509.34 L87.50,509.45 L87.75,509.36 L88.00,509.37 L88.25,509.49 L88.50,509.40 L88.75,509.38 L89.00,509.43 L89.25,509.28 L89.50,509.26 L89.75,509.32 L90.00,509.40 L90.25,509.41 L90.50,509.44 L90.75,509.45 L91.00,509.33 L91.25,509.45 L91.50,509.43 L91.75,509.38 L92.00,509.43 L92.25,509.44 L92.50,509.33 L92.75,509.19 L93.00,509.08 L93.25,509.14 L93.50,509.19 L93.75,509.36 L94.00,509.34 L94.25,509.29 L94.50,509.34 L94.75,509.42 L95.00,509.31 L95.25,509.40 L95.50,509.49 L95.75,509.34 L96.00,509.31 L96.25,509.44 L96.50,509.48 L96.75,509.34 L97.00,509.31 L97.25,509.25 L97.50,509.23 L97.75,509.20 L98.00,509.42 L98.25,509.34 L98.50,509.44 L98.75,509.35 L99.00,509.40 L99.25,509.23 L99.50,509.26 L99.75,509.29 L100.00,509.42 L100.25,509.39 L100.50,509.23 L100.75,509.21 L101.00,509.23 L101.25,509.24 L101.50,509.33 L101.75,509.28 L102.00,509.43 L102.25,509.36 L102.50,509.30 L102.75,509.31 L103.00,509.36 L103.25,509.35 L103.50,509.45 L103.75,509.42 L104.00,509.48 L104.25,509.35 L104.50,509.48 L104.75,509.44 L105.00,509.25 L105.25,509.05 L105.50,509.03 L105.75,509.02 L106.00,509.05 L106.25,509.18 L106.50,509.38 L106.75,509.42 L107.00,509.37 L107.25,509.35 L107.50,509.30 L107.75,509.18 L108.00,509.09 L108.25,509.25 L108.50,509.25 L108.75,509.20 L109.00,509.26 L109.25,509.47 L109.50,509.39 L109.75,509.28 L110.00,509.42 L110.25,509.48 L110.50,509.38 L110.75,509.37 L111.00,509.39 L111.25,509.48 L111.50,509.36 L111.75,509.28 L112.00,509.36 L112.25,509.34 L112.50,509.45 L112.75,509.44 L113.00,509.32 L113.25,509.30 L113.50,509.29 L113.75,509.45 L114.00,509.40 L114.25,509.39 L114.50,509.27 L114.75,509.18 L115.00,509.28 L115.25,509.37 L115.50,509.27 L115.75,509.48 L116.00,509.31 L116.25,509.39 L116.50,509.36 L116.75,509.32 L117.00,509.44 L117.25,509.17 L117.50,509.10 L117.75,509.38 L118.00,509.37 L118.25,509.39 L118.50,509.40 L118.75,509.44 L119.00,509.38 L119.25,509.42 L119.50,509.41 L119.75,509.47 L120.00,509.40 L120.25,509.34 L120.50,509.36 L120.75,509.26 L121.00,509.44 L121.25,509.48 L121.50,509.38 L121.75,509.48 L122.00,509.45 L122.25,509.43 L122.50,509.44 L122.75,509.40 L123.00,509.47 L123.25,509.46 L123.50,509.47 L123.75,509.33 L124.00,509.44 L124.25,509.43 L124.50,509.45 L124.75,509.42 L125.00,509.15 L125.25,509.46 L125.50,509.46 L125.75,509.36 L126.00,509.24 L126.25,509.12 L126.50,509.25 L126.75,509.17 L127.00,509.24 L127.25,509.25 L127.50,509.25 L127.75,509.27 L128.00,509.21 L128.25,509.24 L128.50,509.35 L128.75,509.42 L129.00,509.40 L129.25,509.38 L129.50,509.28 L129.75,509.29 L130.00,509.31 L130.25,509.32 L130.50,509.45 L130.75,509.44 L131.00,509.20 L131.25,509.18 L131.50,508.96 L131.75,508.96 L132.00,508.91 L132.25,509.12 L132.50,509.33 L132.75,509.28 L133.00,509.21 L133.25,509.32 L133.50,509.24 L133.75,509.22 L134.00,509.22 L134.25,509.16 L134.50,509.26 L134.75,509.37 L135.00,509.17 L135.25,509.23 L135.50,509.15 L135.75,509.23 L136.00,509.22 L136.25,509.08 L136.50,509.03 L136.75,508.89 L137.00,508.62 L137.25,508.61 L137.50,508.68 L137.75,508.64 L138.00,508.60 L138.25,508.53 L138.50,508.56 L138.75,508.63 L139.00,508.60 L139.25,508.81 L139.50,508.89 L139.75,508.91 L140.00,509.00 L140.25,509.05 L140.50,509.15 L140.75,509.24 L141.00,509.27 L141.25,509.19 L141.50,509.25 L141.75,509.30 L142.00,509.33 L142.25,509.31 L142.50,509.33 L142.75,509.39 L143.00,509.39 L143.25,509.20 L143.50,509.25 L143.75,509.17 L144.00,509.21 L144.25,509.26 L144.50,509.31 L144.75,509.30 L145.00,509.32 L145.25,509.28 L145.50,509.30 L145.75,509.42 L146.00,509.27 L146.25,509.25 L146.50,509.28 L146.75,509.30 L147.00,509.33 L147.25,509.34 L147.50,509.36 L147.75,509.33 L148.00,509.34 L148.25,509.44 L148.50,509.29 L148.75,509.35 L149.00,509.35 L149.25,509.44 L149.50,509.32 L149.75,509.17 L150.00,509.13 L150.25,509.09 L150.50,509.26 L150.75,509.28 L151.00,509.34 L151.25,509.42 L151.50,509.38 L151.75,509.44 L152.00,509.46 L152.25,509.32 L152.50,509.26 L152.75,509.31 L153.00,509.42 L153.25,509.43 L153.50,509.39 L153.75,509.42 L154.00,509.38 L154.25,509.32 L154.50,509.22 L154.75,509.27 L155.00,509.38 L155.25,509.43 L155.50,509.31 L155.75,509.35 L156.00,509.36 L156.25,509.34 L156.50,509.28 L156.75,509.14 L157.00,509.20 L157.25,509.18 L157.50,509.26 L157.75,509.25 L158.00,509.37 L158.25,509.35 L158.50,509.16 L158.75,509.22 L159.00,509.31 L159.25,509.31 L159.50,509.47 L159.75,509.37 L160.00,509.38 L160.25,509.43 L160.50,509.32 L160.75,509.00 L161.00,509.17 L161.25,509.09 L161.50,509.06 L161.75,509.18 L162.00,509.34 L162.25,509.27 L162.50,509.23 L162.75,509.23 L163.00,509.23 L163.25,509.17 L163.50,509.10 L163.75,509.19 L164.00,509.21 L164.25,509.10 L164.50,509.15 L164.75,509.23 L165.00,509.34 L165.25,509.39 L165.50,509.32 L165.75,509.29 L166.00,509.32 L166.25,509.22 L166.50,509.25 L166.75,509.39 L167.00,509.39 L167.25,509.29 L167.50,509.37 L167.75,509.43 L168.00,509.35 L168.25,509.25 L168.50,509.32 L168.75,509.30 L169.00,509.45 L169.25,509.36 L169.50,509.37 L169.75,509.42 L170.00,509.35 L170.25,509.24 L170.50,509.08 L170.75,509.18 L171.00,509.29 L171.25,509.35 L171.50,509.40 L171.75,509.44 L172.00,509.33 L172.25,509.23 L172.50,509.33 L172.75,509.38 L173.00,509.41 L173.25,509.26 L173.50,509.23 L173.75,509.20 L174.00,509.24 L174.25,509.23 L174.50,509.26 L174.75,509.30 L175.00,509.35 L175.25,509.19 L175.50,509.24 L175.75,509.17 L176.00,509.22 L176.25,509.25 L176.50,509.29 L176.75,509.34 L177.00,509.35 L177.25,509.27 L177.50,509.11 L177.75,509.19 L178.00,509.28 L178.25,509.25 L178.50,509.28 L178.75,509.16 L179.00,509.23 L179.25,509.19 L179.50,509.05 L179.75,509.11 L180.00,508.95 L180.25,508.99 L180.50,508.72 L180.75,508.71 L181.00,508.62 L181.25,508.26 L181.50,507.97 L181.75,507.50 L182.00,507.28 L182.25,507.09 L182.50,506.61 L182.75,506.34 L183.00,506.15 L183.25,506.38 L183.50,506.70 L183.75,507.10 L184.00,507.40 L184.25,507.79 L184.50,508.18 L184.75,508.25 L185.00,508.33 L185.25,508.47 L185.50,508.63 L185.75,508.82 L186.00,508.92 L186.25,509.06 L186.50,509.13 L186.75,509.09 L187.00,509.16 L187.25,509.16 L187.50,509.03 L187.75,509.16 L188.00,509.25 L188.25,509.28 L188.50,509.34 L188.75,509.32 L189.00,509.36 L189.25,509.21 L189.50,509.33 L189.75,509.35 L190.00,509.39 L190.25,509.39 L190.50,509.40 L190.75,509.37 L191.00,509.36 L191.25,509.35 L191.50,509.35 L191.75,509.34 L192.00,509.35 L192.25,509.42 L192.50,509.29 L192.75,509.21 L193.00,509.22 L193.25,509.17 L193.50,509.16 L193.75,509.25 L194.00,509.38 L194.25,509.22 L194.50,509.42 L194.75,509.39 L195.00,509.42 L195.25,509.37 L195.50,509.23 L195.75,509.41 L196.00,509.24 L196.25,509.32 L196.50,509.41 L196.75,509.35 L197.00,509.39 L197.25,509.34 L197.50,509.45 L197.75,509.26 L198.00,509.40 L198.25,509.32 L198.50,509.26 L198.75,509.28 L199.00,509.35 L199.25,509.45 L199.50,509.45 L199.75,509.45 L200.00,509.39 L200.25,509.21 L200.50,509.21 L200.75,509.20 L201.00,509.32 L201.25,509.42 L201.50,509.44 L201.75,509.37 L202.00,509.36 L202.25,509.38 L202.50,509.41 L202.75,509.26 L203.00,509.26 L203.25,509.23 L203.50,509.19 L203.75,509.21 L204.00,509.34 L204.25,509.31 L204.50,509.36 L204.75,509.33 L205.00,509.42 L205.25,509.44 L205.50,509.37 L205.75,509.43 L206.00,509.43 L206.25,509.33 L206.50,509.38 L206.75,509.24 L207.00,509.36 L207.25,509.32 L207.50,509.43 L207.75,509.41 L208.00,509.44 L208.25,509.34 L208.50,509.38 L208.75,509.42 L209.00,509.29 L209.25,509.38 L209.50,509.15 L209.75,509.23 L210.00,509.07 L210.25,509.32 L210.50,509.12 L210.75,509.28 L211.00,509.32 L211.25,509.31 L211.50,509.15 L211.75,509.31 L212.00,509.29 L212.25,509.40 L212.50,509.40 L212.75,509.38 L213.00,509.46 L213.25,509.42 L213.50,509.34 L213.75,509.28 L214.00,509.27 L214.25,509.29 L214.50,509.37 L214.75,509.41 L215.00,509.39 L215.25,509.30 L215.50,509.35 L215.75,509.37 L216.00,509.41 L216.25,509.31 L216.50,509.41 L216.75,509.44 L217.00,509.42 L217.25,509.21 L217.50,509.44 L217.75,509.38 L218.00,509.41 L218.25,509.37 L218.50,509.41 L218.75,509.33 L219.00,509.43 L219.25,509.33 L219.50,509.34 L219.75,509.44 L220.00,509.44 L220.25,509.45 L220.50,509.30 L220.75,509.45 L221.00,509.32 L221.25,509.29 L221.50,509.45 L221.75,509.40 L222.00,509.32 L222.25,509.43 L222.50,509.21 L222.75,509.38 L223.00,509.45 L223.25,509.30 L223.50,509.29 L223.75,509.37 L224.00,509.33 L224.25,509.37 L224.50,509.31 L224.75,509.33 L225.00,509.34 L225.25,509.42 L225.50,509.41 L225.75,509.36 L226.00,509.29 L226.25,509.25 L226.50,509.26 L226.75,509.25 L227.00,509.10 L227.25,509.03 L227.50,509.07 L227.75,509.19 L228.00,509.16 L228.25,509.26 L228.50,509.37 L228.75,509.40 L229.00,509.28 L229.25,509.24 L229.50,509.26 L229.75,509.33 L230.00,509.34 L230.25,509.31 L230.50,509.38 L230.75,509.41 L231.00,509.44 L231.25,509.40 L231.50,509.35 L231.75,509.22 L232.00,509.12 L232.25,508.94 L232.50,509.04 L232.75,509.09 L233.00,509.33 L233.25,509.43 L233.50,509.34 L233.75,509.35 L234.00,509.38 L234.25,509.41 L234.50,509.41 L234.75,509.42 L235.00,509.39 L235.25,509.42 L235.50,509.35 L235.75,509.40 L236.00,509.23 L236.25,509.26 L236.50,509.29 L236.75,509.39 L237.00,509.31 L237.25,509.14 L237.50,508.99 L237.75,509.04 L238.00,509.27 L238.25,509.22 L238.50,509.22 L238.75,509.32 L239.00,509.35 L239.25,509.18 L239.50,509.22 L239.75,509.40 L240.00,509.33 L240.25,509.35 L240.50,509.24 L240.75,509.31 L241.00,509.33 L241.25,509.36 L241.50,509.24 L241.75,509.28 L242.00,509.32 L242.25,509.23 L242.50,509.38 L242.75,509.38 L243.00,509.24 L243.25,509.22 L243.50,509.18 L243.75,509.36 L244.00,509.37 L244.25,509.35 L244.50,509.32 L244.75,509.28 L245.00,509.15 L245.25,509.23 L245.50,509.35 L245.75,509.34 L246.00,509.28 L246.25,509.18 L246.50,509.14 L246.75,509.10 L247.00,509.06 L247.25,509.10 L247.50,509.21 L247.75,509.28 L248.00,509.26 L248.25,509.29 L248.50,509.24 L248.75,509.24 L249.00,509.19 L249.25,509.10 L249.50,508.99 L249.75,509.03 L250.00,509.17 L250.25,509.16 L250.50,509.14 L250.75,509.04 L251.00,509.03 L251.25,509.19 L251.50,509.12 L251.75,509.10 L252.00,509.12 L252.25,509.10 L252.50,508.91 L252.75,508.84 L253.00,508.95 L253.25,508.93 L253.50,508.90 L253.75,508.89 L254.00,508.80 L254.25,508.72 L254.50,508.73 L254.75,508.74 L255.00,508.56 L255.25,508.50 L255.50,508.20 L255.75,508.10 L256.00,508.11 L256.25,507.84 L256.50,507.50 L256.75,507.18 L257.00,506.54 L257.25,505.94 L257.50,504.81 L257.75,503.01 L258.00,500.44 L258.25,496.51 L258.50,491.48 L258.75,486.40 L259.00,484.02 L259.25,486.38 L259.50,491.74 L259.75,496.72 L260.00,500.45 L260.25,503.11 L260.50,504.80 L260.75,505.92 L261.00,506.57 L261.25,506.96 L261.50,507.41 L261.75,507.59 L262.00,507.83 L262.25,507.92 L262.50,508.18 L262.75,508.35 L263.00,508.41 L263.25,508.44 L263.50,508.55 L263.75,508.68 L264.00,508.51 L264.25,508.62 L264.50,508.57 L264.75,508.63 L265.00,508.65 L265.25,508.83 L265.50,508.88 L265.75,508.97 L266.00,508.94 L266.25,508.95 L266.50,508.82 L266.75,508.94 L267.00,508.97 L267.25,509.05 L267.50,509.08 L267.75,508.97 L268.00,509.11 L268.25,509.10 L268.50,509.08 L268.75,509.10 L269.00,509.10 L269.25,509.08 L269.50,509.04 L269.75,509.10 L270.00,509.08 L270.25,509.03 L270.50,508.90 L270.75,508.90 L271.00,508.79 L271.25,509.08 L271.50,509.10 L271.75,509.03 L272.00,508.99 L272.25,508.91 L272.50,509.01 L272.75,508.89 L273.00,508.96 L273.25,509.06 L273.50,509.03 L273.75,509.06 L274.00,508.89 L274.25,509.00 L274.50,508.94 L274.75,508.87 L275.00,508.86 L275.25,508.89 L275.50,508.67 L275.75,508.93 L276.00,508.80 L276.25,508.73 L276.50,508.67 L276.75,508.82 L277.00,508.81 L277.25,508.83 L277.50,508.75 L277.75,508.68 L278.00,508.48 L278.25,508.27 L278.50,508.29 L278.75,508.37 L279.00,508.52 L279.25,508.49 L279.50,508.36 L279.75,508.12 L280.00,508.12 L280.25,508.07 L280.50,508.26 L280.75,508.10 L281.00,507.83 L281.25,507.67 L281.50,507.62 L281.75,507.55 L282.00,507.13 L282.25,507.03 L282.50,506.71 L282.75,506.32 L283.00,505.86 L283.25,505.13 L283.50,504.27 L283.75,502.93 L284.00,500.86 L284.25,497.77 L284.50,493.06 L284.75,486.44 L285.00,478.15 L285.25,471.18 L285.50,470.48 L285.75,476.47 L286.00,484.69 L286.25,491.69 L286.50,496.54 L286.75,499.84 L287.00,501.87 L287.25,503.29 L287.50,504.32 L287.75,505.09 L288.00,505.64 L288.25,505.90 L288.50,506.09 L288.75,506.00 L289.00,506.03 L289.25,506.14 L289.50,506.20 L289.75,506.30 L290.00,506.44 L290.25,506.46 L290.50,506.26 L290.75,506.06 L291.00,505.87 L291.25,505.46 L291.50,505.23 L291.75,504.63 L292.00,504.23 L292.25,503.41 L292.50,502.74 L292.75,501.96 L293.00,501.19 L293.25,500.46 L293.50,500.10 L293.75,499.82 L294.00,499.91 L294.25,500.36 L294.50,500.69 L294.75,501.17 L295.00,501.58 L295.25,501.64 L295.50,501.63 L295.75,501.56 L296.00,501.47 L296.25,501.09 L296.50,500.74 L296.75,500.29 L297.00,500.04 L297.25,499.44 L297.50,499.20 L297.75,498.59 L298.00,497.87 L298.25,497.21 L298.50,495.94 L298.75,494.48 L299.00,492.33 L299.25,489.81 L299.50,486.47 L299.75,482.56 L300.00,477.75 L300.25,471.89 L300.50,464.89 L300.75,456.48 L301.00,447.30 L301.25,437.99 L301.50,429.35 L301.75,423.34 L302.00,420.97 L302.25,423.11 L302.50,429.45 L302.75,438.12 L303.00,447.66 L303.25,456.86 L303.50,465.08 L303.75,472.29 L304.00,478.36 L304.25,483.28 L304.50,487.39 L304.75,490.66 L305.00,493.28 L305.25,495.63 L305.50,497.37 L305.75,498.79 L306.00,499.92 L306.25,500.89 L306.50,501.68 L306.75,502.50 L307.00,503.02 L307.25,503.46 L307.50,504.03 L307.75,504.45 L308.00,504.81 L308.25,505.21 L308.50,505.44 L308.75,505.67 L309.00,505.90 L309.25,506.16 L309.50,506.49 L309.75,506.63 L310.00,506.84 L310.25,506.84 L310.50,506.99 L310.75,507.17 L311.00,507.30 L311.25,507.44 L311.50,507.54 L311.75,507.66 L312.00,507.57 L312.25,507.73 L312.50,507.90 L312.75,507.93 L313.00,508.04 L313.25,508.04 L313.50,508.15 L313.75,508.01 L314.00,508.17 L314.25,508.32 L314.50,508.32 L314.75,508.36 L315.00,508.32 L315.25,508.29 L315.50,508.41 L315.75,508.33 L316.00,508.34 L316.25,508.44 L316.50,508.65 L316.75,508.67 L317.00,508.58 L317.25,508.57 L317.50,508.70 L317.75,508.72 L318.00,508.61 L318.25,508.64 L318.50,508.63 L318.75,508.64 L319.00,508.65 L319.25,508.81 L319.50,508.80 L319.75,508.85 L320.00,508.81 L320.25,508.73 L320.50,508.55 L320.75,508.56 L321.00,508.72 L321.25,508.91 L321.50,508.97 L321.75,508.96 L322.00,509.04 L322.25,509.02 L322.50,508.90 L322.75,508.78 L323.00,508.72 L323.25,508.54 L323.50,508.72 L323.75,508.86 L324.00,508.96 L324.25,509.05 L324.50,508.85 L324.75,508.98 L325.00,508.87 L325.25,508.86 L325.50,508.96 L325.75,509.04 L326.00,509.12 L326.25,509.07 L326.50,509.04 L326.75,509.09 L327.00,509.03 L327.25,509.14 L327.50,509.13 L327.75,509.02 L328.00,509.01 L328.25,508.88 L328.50,508.91 L328.75,509.02 L329.00,509.11 L329.25,509.20 L329.50,509.15 L329.75,509.18 L330.00,509.18 L330.25,509.23 L330.50,509.23 L330.75,509.04 L331.00,509.17 L331.25,509.06 L331.50,509.02 L331.75,509.11 L332.00,509.26 L332.25,509.25 L332.50,509.29 L332.75,509.24 L333.00,509.18 L333.25,509.21 L333.50,509.22 L333.75,509.30 L334.00,509.16 L334.25,509.27 L334.50,509.31 L334.75,509.28 L335.00,509.21 L335.25,509.28 L335.50,509.32 L335.75,509.18 L336.00,509.30 L336.25,509.26 L336.50,509.10 L336.75,509.20 L337.00,509.16 L337.25,509.30 L337.50,509.29 L337.75,509.34 L338.00,509.32 L338.25,509.33 L338.50,509.14 L338.75,509.23 L339.00,509.18 L339.25,509.04 L339.50,509.19 L339.75,509.27 L340.00,509.31 L340.25,509.35 L340.50,509.22 L340.75,509.19 L341.00,509.17 L341.25,509.25 L341.50,509.27 L341.75,509.37 L342.00,509.36 L342.25,509.28 L342.50,509.38 L342.75,509.34 L343.00,509.26 L343.25,509.02 L343.50,509.31 L343.75,509.24 L344.00,509.37 L344.25,509.38 L344.50,509.16 L344.75,509.28 L345.00,509.28 L345.25,509.35 L345.50,509.33 L345.75,509.37 L346.00,509.19 L346.25,509.26 L346.50,509.36 L346.75,509.33 L347.00,509.32 L347.25,509.34 L347.50,509.30 L347.75,509.28 L348.00,509.36 L348.25,509.26 L348.50,509.23 L348.75,509.22 L349.00,509.37 L349.25,509.39 L349.50,509.37 L349.75,509.24 L350.00,509.10 L350.25,509.20 L350.50,509.22 L350.75,509.08 L351.00,509.11 L351.25,509.29 L351.50,509.35 L351.75,509.41 L352.00,509.35 L352.25,509.35 L352.50,509.24 L352.75,509.26 L353.00,509.26 L353.25,509.37 L353.50,509.39 L353.75,509.37 L354.00,509.23 L354.25,509.31 L354.50,509.40 L354.75,509.31 L355.00,509.31 L355.25,509.21 L355.50,509.35 L355.75,509.40 L356.00,509.24 L356.25,509.39 L356.50,509.39 L356.75,509.32 L357.00,509.30 L357.25,509.30 L357.50,509.29 L357.75,509.37 L358.00,509.37 L358.25,509.37 L358.50,509.30 L358.75,509.11 L359.00,509.23 L359.25,509.30 L359.50,509.40 L359.75,509.41 L360.00,509.38 L360.25,509.32 L360.50,509.41 L360.75,509.25 L361.00,509.31 L361.25,509.42 L361.50,509.33 L361.75,509.29 L362.00,509.19 L362.25,509.25 L362.50,509.32 L362.75,509.37 L363.00,509.41 L363.25,509.41 L363.50,509.33 L363.75,509.35 L364.00,509.24 L364.25,509.23 L364.50,509.22 L364.75,509.35 L365.00,509.21 L365.25,509.16 L365.50,509.17 L365.75,509.21 L366.00,509.23 L366.25,509.43 L366.50,509.23 L366.75,509.16 L367.00,509.20 L367.25,509.31 L367.50,509.43 L367.75,509.29 L368.00,509.27 L368.25,509.29 L368.50,509.37 L368.75,509.44 L369.00,509.37 L369.25,509.37 L369.50,509.37 L369.75,509.34 L370.00,509.38 L370.25,509.39 L370.50,509.41 L370.75,509.42 L371.00,509.38 L371.25,509.39 L371.50,509.24 L371.75,509.34 L372.00,509.40 L372.25,509.36 L372.50,509.42 L372.75,509.31 L373.00,509.38 L373.25,509.29 L373.50,509.26 L373.75,509.12 L374.00,509.12 L374.25,509.19 L374.50,509.28 L374.75,509.36 L375.00,509.40 L375.25,509.34 L375.50,509.39 L375.75,509.32 L376.00,509.45 L376.25,509.37 L376.50,509.25 L376.75,509.17 L377.00,509.25 L377.25,509.16 L377.50,509.23 L377.75,509.41 L378.00,509.36 L378.25,509.34 L378.50,509.42 L378.75,509.33 L379.00,509.41 L379.25,509.45 L379.50,509.44 L379.75,509.25 L380.00,509.10 L380.25,509.24 L380.50,509.30 L380.75,509.23 L381.00,509.43 L381.25,509.26 L381.50,509.20 L381.75,509.24 L382.00,509.12 L382.25,509.29 L382.50,509.41 L382.75,509.43 L383.00,509.42 L383.25,509.21 L383.50,509.06 L383.75,509.07 L384.00,508.97 L384.25,509.14 L384.50,509.43 L384.75,509.38 L385.00,509.30 L385.25,509.23 L385.50,509.31 L385.75,509.36 L386.00,509.21 L386.25,509.10 L386.50,509.18 L386.75,509.11 L387.00,509.18 L387.25,509.39 L387.50,509.42 L387.75,509.34 L388.00,509.37 L388.25,509.31 L388.50,509.12 L388.75,509.22 L389.00,509.26 L389.25,509.35 L389.50,509.43 L389.75,509.30 L390.00,509.44 L390.25,509.43 L390.50,509.29 L390.75,509.34 L391.00,509.39 L391.25,509.32 L391.50,509.37 L391.75,509.33 L392.00,509.29 L392.25,509.12 L392.50,509.11 L392.75,509.07 L393.00,509.07 L393.25,509.22 L393.50,509.20 L393.75,509.37 L394.00,509.40 L394.25,509.36 L394.50,509.37 L394.75,509.30 L395.00,509.43 L395.25,509.42 L395.50,509.39 L395.75,509.41 L396.00,509.29 L396.25,509.39 L396.50,509.42 L396.75,509.31 L397.00,509.32 L397.25,509.31 L397.50,509.34 L397.75,509.41 L398.00,509.38 L398.25,509.37 L398.50,509.35 L398.75,509.38 L399.00,509.38 L399.25,509.20 L399.50,509.02 L399.75,509.02 L400.00,508.93 L400.25,509.09 L400.50,509.23 L400.75,509.37 L401.00,509.37 L401.25,509.28 L401.50,509.18 L401.75,509.35 L402.00,509.10 L402.25,509.12 L402.50,509.33 L402.75,509.22 L403.00,509.22 L403.25,509.24 L403.50,509.15 L403.75,509.16 L404.00,509.26 L404.25,509.12 L404.50,509.08 L404.75,509.05 L405.00,509.01 L405.25,508.95 L405.50,509.10 L405.75,509.06 L406.00,508.98 L406.25,509.00 L406.50,508.91 L406.75,508.55 L407.00,508.61 L407.25,508.61 L407.50,508.63 L407.75,508.55 L408.00,508.52 L408.25,508.26 L408.50,508.21 L408.75,507.97 L409.00,507.54 L409.25,507.12 L409.50,506.31 L409.75,505.43 L410.00,503.88 L410.25,501.69 L410.50,498.45 L410.75,494.26 L411.00,490.28 L411.25,488.93 L411.50,491.57 L411.75,495.95 L412.00,499.91 L412.25,502.78 L412.50,504.72 L412.75,505.90 L413.00,506.72 L413.25,507.03 L413.50,507.34 L413.75,507.64 L414.00,508.06 L414.25,508.37 L414.50,508.55 L414.75,508.53 L415.00,508.73 L415.25,508.82 L415.50,508.87 L415.75,508.92 L416.00,508.87 L416.25,509.05 L416.50,509.02 L416.75,509.02 L417.00,509.18 L417.25,509.19 L417.50,509.19 L417.75,509.22 L418.00,509.17 L418.25,508.98 L418.50,508.99 L418.75,508.75 L419.00,508.64 L419.25,508.79 L419.50,509.11 L419.75,509.01 L420.00,509.24 L420.25,509.29 L420.50,509.31 L420.75,509.32 L421.00,509.35 L421.25,509.19 L421.50,509.04 L421.75,509.02 L422.00,509.03 L422.25,509.06 L422.50,509.07 L422.75,509.11 L423.00,509.22 L423.25,509.12 L423.50,509.30 L423.75,509.34 L424.00,509.31 L424.25,509.26 L424.50,509.29 L424.75,509.15 L425.00,509.23 L425.25,509.37 L425.50,509.38 L425.75,509.38 L426.00,509.20 L426.25,509.28 L426.50,509.38 L426.75,509.34 L427.00,509.37 L427.25,509.30 L427.50,509.34 L427.75,509.41 L428.00,509.28 L428.25,509.24 L428.50,509.40 L428.75,509.39 L429.00,509.38 L429.25,509.43 L429.50,509.37 L429.75,509.43 L430.00,509.40 L430.25,509.25 L430.50,509.18 L430.75,509.15 L431.00,509.24 L431.25,509.20 L431.50,509.30 L431.75,509.22 L432.00,509.18 L432.25,509.20 L432.50,509.24 L432.75,509.30 L433.00,509.29 L433.25,509.37 L433.50,509.17 L433.75,509.16 L434.00,509.07 L434.25,509.20 L434.50,509.19 L434.75,509.29 L435.00,509.26 L435.25,509.18 L435.50,509.16 L435.75,509.09 L436.00,509.05 L436.25,509.10 L436.50,509.05 L436.75,509.09 L437.00,509.03 L437.25,508.93 L437.50,508.78 L437.75,508.78 L438.00,508.78 L438.25,508.75 L438.50,508.58 L438.75,508.53 L439.00,508.45 L439.25,508.44 L439.50,508.29 L439.75,508.23 L440.00,508.13 L440.25,507.99 L440.50,507.77 L440.75,507.69 L441.00,507.55 L441.25,507.53 L441.50,507.55 L441.75,507.59 L442.00,507.54 L442.25,507.41 L442.50,507.42 L442.75,507.32 L443.00,507.30 L443.25,507.24 L443.50,507.15 L443.75,507.26 L444.00,507.20 L444.25,507.05 L444.50,506.89 L444.75,506.93 L445.00,507.13 L445.25,507.20 L445.50,507.39 L445.75,507.45 L446.00,507.36 L446.25,507.28 L446.50,507.33 L446.75,507.50 L447.00,507.54 L447.25,507.83 L447.50,507.89 L447.75,507.92 L448.00,508.13 L448.25,508.16 L448.50,508.34 L448.75,508.41 L449.00,508.50 L449.25,508.54 L449.50,508.47 L449.75,508.51 L450.00,508.61 L450.25,508.68 L450.50,508.79 L450.75,508.96 L451.00,509.02 L451.25,509.05 L451.50,509.03 L451.75,509.13 L452.00,509.16 L452.25,509.19 L452.50,509.23 L452.75,509.16 L453.00,508.95 L453.25,508.93 L453.50,508.94 L453.75,508.92 L454.00,509.11 L454.25,509.27 L454.50,509.33 L454.75,509.17 L455.00,509.11 L455.25,509.18 L455.50,509.19 L455.75,509.29 L456.00,509.42 L456.25,509.36 L456.50,509.27 L456.75,509.34 L457.00,509.24 L457.25,509.12 L457.50,509.35 L457.75,509.42 L458.00,509.33 L458.25,509.27 L458.50,509.15 L458.75,509.36 L459.00,509.41 L459.25,509.40 L459.50,509.41 L459.75,509.38 L460.00,509.27 L460.25,509.27 L460.50,509.35 L460.75,509.19 L461.00,509.26 L461.25,509.29 L461.50,509.26 L461.75,509.33 L462.00,509.36 L462.25,509.28 L462.50,509.33 L462.75,509.31 L463.00,509.24 L463.25,509.24 L463.50,509.27 L463.75,509.22 L464.00,509.19 L464.25,509.01 L464.50,508.97 L464.75,508.97 L465.00,508.78 L465.25,508.75 L465.50,508.81 L465.75,508.82 L466.00,508.83 L466.25,508.58 L466.50,508.58 L466.75,508.51 L467.00,508.53 L467.25,508.45 L467.50,508.39 L467.75,508.41 L468.00,508.29 L468.25,508.27 L468.50,508.38 L468.75,508.57 L469.00,508.47 L469.25,508.73 L469.50,508.82 L469.75,508.73 L470.00,508.78 L470.25,508.97 L470.50,509.00 L470.75,509.09 L471.00,509.18 L471.25,509.05 L471.50,509.05 L471.75,509.04 L472.00,509.01 L472.25,509.07 L472.50,509.26 L472.75,509.14 L473.00,509.22 L473.25,509.35 L473.50,509.33 L473.75,509.33 L474.00,508.99 L474.25,509.15 L474.50,509.13 L474.75,509.08 L475.00,509.14 L475.25,509.23 L475.50,509.07 L475.75,509.14 L476.00,509.38 L476.25,509.32 L476.50,509.18 L476.75,509.22 L477.00,509.23 L477.25,509.28 L477.50,509.28 L477.75,509.20 L478.00,509.33 L478.25,509.32 L478.50,509.37 L478.75,509.19 L479.00,509.25 L479.25,509.14 L479.50,509.05 L479.75,509.07 L480.00,509.13 L480.25,509.11 L480.50,509.30 L480.75,509.38 L481.00,509.34 L481.25,509.28 L481.50,509.23 L481.75,509.32 L482.00,509.33 L482.25,509.24 L482.50,509.14 L482.75,509.07 L483.00,509.18 L483.25,509.20 L483.50,509.36 L483.75,509.27 L484.00,509.26 L484.25,509.29 L484.50,509.26 L484.75,509.23 L485.00,509.03 L485.25,509.14 L485.50,509.31 L485.75,509.29 L486.00,509.25 L486.25,509.18 L486.50,509.27 L486.75,509.27 L487.00,509.17 L487.25,509.06 L487.50,509.24 L487.75,509.16 L488.00,509.18 L488.25,508.89 L488.50,508.89 L488.75,509.08 L489.00,509.08 L489.25,509.15 L489.50,508.96 L489.75,509.18 L490.00,509.14 L490.25,508.93 L490.50,509.13 L490.75,508.96 L491.00,509.09 L491.25,509.03 L491.50,508.81 L491.75,509.00 L492.00,508.93 L492.25,508.88 L492.50,508.86 L492.75,508.78 L493.00,508.73 L493.25,508.75 L493.50,508.50 L493.75,508.46 L494.00,508.46 L494.25,508.48 L494.50,508.20 L494.75,507.87 L495.00,507.82 L495.25,507.71 L495.50,507.47 L495.75,507.44 L496.00,507.02 L496.25,506.50 L496.50,506.00 L496.75,505.42 L497.00,504.37 L497.25,503.11 L497.50,500.95 L497.75,498.13 L498.00,493.99 L498.25,488.45 L498.50,481.61 L498.75,475.07 L499.00,472.28 L499.25,475.07 L499.50,481.59 L499.75,488.53 L500.00,494.15 L500.25,498.16 L500.50,501.09 L500.75,503.17 L501.00,504.41 L501.25,505.39 L501.50,506.17 L501.75,506.66 L502.00,506.75 L502.25,507.17 L502.50,507.44 L502.75,507.86 L503.00,508.10 L503.25,508.04 L503.50,508.16 L503.75,508.25 L504.00,508.43 L504.25,508.64 L504.50,508.74 L504.75,508.76 L505.00,508.81 L505.25,508.82 L505.50,508.77 L505.75,508.94 L506.00,508.99 L506.25,508.94 L506.50,508.86 L506.75,508.91 L507.00,509.06 L507.25,509.09 L507.50,508.91 L507.75,508.89 L508.00,508.85 L508.25,509.00 L508.50,508.96 L508.75,508.93 L509.00,508.82 L509.25,508.98 L509.50,508.88 L509.75,509.04 L510.00,509.05 L510.25,509.28 L510.50,509.14 L510.75,509.21 L511.00,509.10 L511.25,509.29 L511.50,509.25 L511.75,509.33 L512.00,509.25 L512.25,509.11 L512.50,509.22 L512.75,509.20 L513.00,509.21 L513.25,509.33 L513.50,509.32 L513.75,509.35 L514.00,509.35 L514.25,509.31 L514.50,509.30 L514.75,509.15 L515.00,509.24 L515.25,509.32 L515.50,509.26 L515.75,509.29 L516.00,509.20 L516.25,509.34 L516.50,509.28 L516.75,509.27 L517.00,509.37 L517.25,509.37 L517.50,509.20 L517.75,509.14 L518.00,509.20 L518.25,509.05 L518.50,509.11 L518.75,509.14 L519.00,509.15 L519.25,509.19 L519.50,509.34 L519.75,509.33 L520.00,509.31 L520.25,509.20 L520.50,509.18 L520.75,509.25 L521.00,509.35 L521.25,509.41 L521.50,509.24 L521.75,509.31 L522.00,509.35 L522.25,509.38 L522.50,509.34 L522.75,509.36 L523.00,509.29 L523.25,509.35 L523.50,509.40 L523.75,509.36 L524.00,509.40 L524.25,509.08 L524.50,509.05 L524.75,508.96 L525.00,509.04 L525.25,509.04 L525.50,509.33 L525.75,509.21 L526.00,509.23 L526.25,509.22 L526.50,509.25 L526.75,509.35 L527.00,509.33 L527.25,509.41 L527.50,509.41 L527.75,509.17 L528.00,509.12 L528.25,509.21 L528.50,509.29 L528.75,509.40 L529.00,509.33 L529.25,509.34 L529.50,509.30 L529.75,509.27 L530.00,509.37 L530.25,509.28 L530.50,509.35 L530.75,509.25 L531.00,509.14 L531.25,509.11 L531.50,509.34 L531.75,509.33 L532.00,509.28 L532.25,509.29 L532.50,509.25 L532.75,509.32 L533.00,509.31 L533.25,509.13 L533.50,509.18 L533.75,509.12 L534.00,509.19 L534.25,509.07 L534.50,509.19 L534.75,509.29 L535.00,509.26 L535.25,509.20 L535.50,509.03 L535.75,508.84 L536.00,508.78 L536.25,508.66 L536.50,508.62 L536.75,508.66 L537.00,508.74 L537.25,508.73 L537.50,508.60 L537.75,508.56 L538.00,508.38 L538.25,508.12 L538.50,508.22 L538.75,508.41 L539.00,508.51 L539.25,508.75 L539.50,508.79 L539.75,508.88 L540.00,508.95 L540.25,508.87 L540.50,508.89 L540.75,508.92 L541.00,508.90 L541.25,508.95 L541.50,509.06 L541.75,509.04 L542.00,509.08 L542.25,509.14 L542.50,509.13 L542.75,509.00 L543.00,509.09 L543.25,509.00 L543.50,508.95 L543.75,508.94 L544.00,509.11 L544.25,509.03 L544.50,509.14 L544.75,509.31 L545.00,509.24 L545.25,509.12 L545.50,509.26 L545.75,509.28 L546.00,509.25 L546.25,509.15 L546.50,509.15 L546.75,509.20 L547.00,509.21 L547.25,509.16 L547.50,509.01 L547.75,509.13 L548.00,509.01 L548.25,509.09 L548.50,509.21 L548.75,509.22 L549.00,509.23 L549.25,509.08 L549.50,509.05 L549.75,509.10 L550.00,509.10 L550.25,509.15 L550.50,509.03 L550.75,509.03 L551.00,509.06 L551.25,509.06 L551.50,509.08 L551.75,509.02 L552.00,508.94 L552.25,508.98 L552.50,509.04 L552.75,508.92 L553.00,508.86 L553.25,508.91 L553.50,508.85 L553.75,508.92 L554.00,508.81 L554.25,508.82 L554.50,508.71 L554.75,508.75 L555.00,508.69 L555.25,508.52 L555.50,508.50 L555.75,508.20 L556.00,508.18 L556.25,507.97 L556.50,507.97 L556.75,507.95 L557.00,507.85 L557.25,507.66 L557.50,507.38 L557.75,507.31 L558.00,506.97 L558.25,506.59 L558.50,506.23 L558.75,505.50 L559.00,504.91 L559.25,503.84 L559.50,502.71 L559.75,500.69 L560.00,498.06 L560.25,494.66 L560.50,490.03 L560.75,483.93 L561.00,477.29 L561.25,471.39 L561.50,468.86 L561.75,471.35 L562.00,477.30 L562.25,484.07 L562.50,490.20 L562.75,494.82 L563.00,498.32 L563.25,500.72 L563.50,502.53 L563.75,503.94 L564.00,504.81 L564.25,505.58 L564.50,506.08 L564.75,506.53 L565.00,506.87 L565.25,507.13 L565.50,507.20 L565.75,507.25 L566.00,507.44 L566.25,507.62 L566.50,507.65 L566.75,507.91 L567.00,507.96 L567.25,507.85 L567.50,507.85 L567.75,507.92 L568.00,507.99 L568.25,507.96 L568.50,507.81 L568.75,507.83 L569.00,507.81 L569.25,507.81 L569.50,507.73 L569.75,507.71 L570.00,507.65 L570.25,507.67 L570.50,507.71 L570.75,507.74 L571.00,507.90 L571.25,507.96 L571.50,508.21 L571.75,508.25 L572.00,508.26 L572.25,508.28 L572.50,508.22 L572.75,508.37 L573.00,508.40 L573.25,508.36 L573.50,508.44 L573.75,508.54 L574.00,508.65 L574.25,508.87 L574.50,508.60 L574.75,508.65 L575.00,508.71 L575.25,508.69 L575.50,509.08 L575.75,508.92 L576.00,508.98 L576.25,508.93 L576.50,508.76 L576.75,508.82 L577.00,509.01 L577.25,508.87 L577.50,509.01 L577.75,509.19 L578.00,509.23 L578.25,509.20 L578.50,509.24 L578.75,509.17 L579.00,509.05 L579.25,509.01 L579.50,509.04 L579.75,509.14 L580.00,509.14 L580.25,509.27 L580.50,509.09 L580.75,509.05 L581.00,509.09 L581.25,509.07 L581.50,508.98 L581.75,509.22 L582.00,509.22 L582.25,509.14 L582.50,509.17 L582.75,509.17 L583.00,509.19 L583.25,509.14 L583.50,509.11 L583.75,509.11 L584.00,509.21 L584.25,509.16 L584.50,509.07 L584.75,508.98 L585.00,508.93 L585.25,509.25 L585.50,509.26 L585.75,509.21 L586.00,509.19 L586.25,509.06 L586.50,509.19 L586.75,509.21 L587.00,509.07 L587.25,509.05 L587.50,509.28 L587.75,509.27 L588.00,509.30 L588.25,509.17 L588.50,509.22 L588.75,509.20 L589.00,509.25 L589.25,509.15 L589.50,509.10 L589.75,509.17 L590.00,509.19 L590.25,509.14 L590.50,509.24 L590.75,509.29 L591.00,509.28 L591.25,509.17 L591.50,509.05 L591.75,509.18 L592.00,509.19 L592.25,509.19 L592.50,509.25 L592.75,509.20 L593.00,509.24 L593.25,509.26 L593.50,509.20 L593.75,509.24 L594.00,509.21 L594.25,509.20 L594.50,509.13 L594.75,509.10 L595.00,509.10 L595.25,509.14 L595.50,508.99 L595.75,509.17 L596.00,509.17 L596.25,509.09 L596.50,508.91 L596.75,508.92 L597.00,508.83 L597.25,508.95 L597.50,509.00 L597.75,509.10 L598.00,509.01 L598.25,509.00 L598.50,509.03 L598.75,508.76 L599.00,508.94 L599.25,508.79 L599.50,508.77 L599.75,508.85 L600.00,508.94 L600.25,508.91 L600.50,508.89 L600.75,508.87 L601.00,508.80 L601.25,508.88 L601.50,508.89 L601.75,508.84 L602.00,508.65 L602.25,508.76 L602.50,508.65 L602.75,508.59 L603.00,508.52 L603.25,508.52 L603.50,508.56 L603.75,508.53 L604.00,508.47 L604.25,508.33 L604.50,508.20 L604.75,508.12 L605.00,507.95 L605.25,507.98 L605.50,507.88 L605.75,507.79 L606.00,507.67 L606.25,507.65 L606.50,507.46 L606.75,507.31 L607.00,507.06 L607.25,506.74 L607.50,506.50 L607.75,506.24 L608.00,505.77 L608.25,505.43 L608.50,504.83 L608.75,504.12 L609.00,503.52 L609.25,502.46 L609.50,501.13 L609.75,499.55 L610.00,497.32 L610.25,494.16 L610.50,490.15 L610.75,485.01 L611.00,478.33 L611.25,470.29 L611.50,461.21 L611.75,452.88 L612.00,447.90 L612.25,448.47 L612.50,454.33 L612.75,462.97 L613.00,471.93 L613.25,479.71 L613.50,486.06 L613.75,491.01 L614.00,494.72 L614.25,497.64 L614.50,499.72 L614.75,501.42 L615.00,502.66 L615.25,503.49 L615.50,504.26 L615.75,504.85 L616.00,505.43 L616.25,505.79 L616.50,506.24 L616.75,506.54 L617.00,506.74 L617.25,506.94 L617.50,507.12 L617.75,507.23 L618.00,507.31 L618.25,507.32 L618.50,507.49 L618.75,507.55 L619.00,507.58 L619.25,507.62 L619.50,507.81 L619.75,507.68 L620.00,507.78 L620.25,507.85 L620.50,507.68 L620.75,507.46 L621.00,507.39 L621.25,507.18 L621.50,506.75 L621.75,506.40 L622.00,505.83 L622.25,505.01 L622.50,504.12 L622.75,503.56 L623.00,503.27 L623.25,503.46 L623.50,503.95 L623.75,504.75 L624.00,505.59 L624.25,506.36 L624.50,506.91 L624.75,507.30 L625.00,507.80 L625.25,508.00 L625.50,508.23 L625.75,508.35 L626.00,508.45 L626.25,508.62 L626.50,508.71 L626.75,508.71 L627.00,508.85 L627.25,508.79 L627.50,508.82 L627.75,508.82 L628.00,508.94 L628.25,508.90 L628.50,508.77 L628.75,508.87 L629.00,508.95 L629.25,508.84 L629.50,509.03 L629.75,509.03 L630.00,508.86 L630.25,508.87 L630.50,509.04 L630.75,509.02 L631.00,509.21 L631.25,509.03 L631.50,509.05 L631.75,509.15 L632.00,509.12 L632.25,509.18 L632.50,509.22 L632.75,509.15 L633.00,509.21 L633.25,509.07 L633.50,509.04 L633.75,509.12 L634.00,509.13 L634.25,509.06 L634.50,509.28 L634.75,509.30 L635.00,509.32 L635.25,509.31 L635.50,509.33 L635.75,509.25 L636.00,509.34 L636.25,509.25 L636.50,509.13 L636.75,509.06 L637.00,509.02 L637.25,509.14 L637.50,509.23 L637.75,509.23 L638.00,509.27 L638.25,509.33 L638.50,509.31 L638.75,509.30 L639.00,509.34 L639.25,509.29 L639.50,509.38 L639.75,509.35 L640.00,509.33 L640.25,509.23 L640.50,509.34 L640.75,509.23 L641.00,509.08 L641.25,509.00 L641.50,509.10 L641.75,509.04 L642.00,509.06 L642.25,509.26 L642.50,509.26 L642.75,509.30 L643.00,509.30 L643.25,509.08 L643.50,509.18 L643.75,509.05 L644.00,509.31 L644.25,509.31 L644.50,509.41 L644.75,509.37 L645.00,509.23 L645.25,509.21 L645.50,509.04 L645.75,508.93 L646.00,508.98 L646.25,508.96 L646.50,509.06 L646.75,509.23 L647.00,509.18 L647.25,509.21 L647.50,509.33 L647.75,509.30 L648.00,509.21 L648.25,509.38 L648.50,509.36 L648.75,509.31 L649.00,509.31 L649.25,509.09 L649.50,509.02 L649.75,509.12 L650.00,509.18 L650.25,509.07 L650.50,509.29 L650.75,509.40 L651.00,509.36 L651.25,509.41 L651.50,509.33 L651.75,509.26 L652.00,509.19 L652.25,509.02 L652.50,509.26 L652.75,509.40 L653.00,509.22 L653.25,509.15 L653.50,508.91 L653.75,508.99 L654.00,509.03 L654.25,509.05 L654.50,509.14 L654.75,509.18 L655.00,509.33 L655.25,509.30 L655.50,509.13 L655.75,509.23 L656.00,509.27 L656.25,509.19 L656.50,509.30 L656.75,509.08 L657.00,509.12 L657.25,509.22 L657.50,509.09 L657.75,509.12 L658.00,509.17 L658.25,509.05 L658.50,509.04 L658.75,508.78 L659.00,508.60 L659.25,508.60 L659.50,508.58 L659.75,508.47 L660.00,508.23 L660.25,508.22 L660.50,508.40 L660.75,508.61 L661.00,508.82 L661.25,508.94 L661.50,509.04 L661.75,509.00 L662.00,508.96 L662.25,509.05 L662.50,509.14 L662.75,509.28 L663.00,509.32 L663.25,509.35 L663.50,509.31 L663.75,509.32 L664.00,509.25 L664.25,509.34 L664.50,509.38 L664.75,509.37 L665.00,509.18 L665.25,509.27 L665.50,509.16 L665.75,509.06 L666.00,509.07 L666.25,509.14 L666.50,509.14 L666.75,509.34 L667.00,509.42 L667.25,509.34 L667.50,509.32 L667.75,509.33 L668.00,509.44 L668.25,509.37 L668.50,509.36 L668.75,509.34 L669.00,509.20 L669.25,509.17 L669.50,509.03 L669.75,509.29 L670.00,509.37 L670.25,509.38 L670.50,509.39 L670.75,509.45 L671.00,509.29 L671.25,509.23 L671.50,509.37 L671.75,509.32 L672.00,509.27 L672.25,509.25 L672.50,509.33 L672.75,509.45 L673.00,509.41 L673.25,509.44 L673.50,509.16 L673.75,509.18 L674.00,509.24 L674.25,509.36 L674.50,509.35 L674.75,509.27 L675.00,509.22 L675.25,509.27 L675.50,509.29 L675.75,509.37 L676.00,509.45 L676.25,509.42 L676.50,509.37 L676.75,509.28 L677.00,509.37 L677.25,509.30 L677.50,509.24 L677.75,509.34 L678.00,509.46 L678.25,509.42 L678.50,509.44 L678.75,509.43 L679.00,509.35 L679.25,509.28 L679.50,509.31 L679.75,509.25 L680.00,509.11 L680.25,509.28 L680.50,509.36 L680.75,509.27 L681.00,509.27 L681.25,509.41 L681.50,509.31 L681.75,509.26 L682.00,509.23 L682.25,509.26 L682.50,509.30 L682.75,509.32 L683.00,509.41 L683.25,509.43 L683.50,509.36 L683.75,509.41 L684.00,509.40 L684.25,509.23 L684.50,509.13 L684.75,509.12 L685.00,509.06 L685.25,509.25 L685.50,509.39 L685.75,509.34 L686.00,509.35 L686.25,509.41 L686.50,509.33 L686.75,509.34 L687.00,509.40 L687.25,509.43 L687.50,509.41 L687.75,509.47 L688.00,509.37 L688.25,509.41 L688.50,509.47 L688.75,509.47 L689.00,509.30 L689.25,509.11 L689.50,509.23 L689.75,509.25 L690.00,509.15 L690.25,509.20 L690.50,509.33 L690.75,509.23 L691.00,509.17 L691.25,509.43 L691.50,509.37 L691.75,509.40 L692.00,509.39 L692.25,509.45 L692.50,509.27 L692.75,509.15 L693.00,509.24 L693.25,509.39 L693.50,509.16 L693.75,509.08 L694.00,509.00 L694.25,509.11 L694.50,509.06 L694.75,509.12 L695.00,509.33 L695.25,509.43 L695.50,509.39 L695.75,509.37 L696.00,509.37 L696.25,509.31 L696.50,509.35 L696.75,509.29 L697.00,509.26 L697.25,509.32 L697.50,509.39 L697.75,509.39 L698.00,509.32 L698.25,509.30 L698.50,509.40 L698.75,509.32 L699.00,509.26 L699.25,509.35 L699.50,509.28 L699.75,509.34 L700.00,509.22 L700.25,509.06 L700.50,509.25 L700.75,509.23 L701.00,509.18 L701.25,509.10 L701.50,509.07 L701.75,508.89 L702.00,508.88 L702.25,508.73 L702.50,508.60 L702.75,508.52 L703.00,508.54 L703.25,508.44 L703.50,508.67 L703.75,508.62 L704.00,508.72 L704.25,508.85 L704.50,509.07 L704.75,509.13 L705.00,509.08 L705.25,509.14 L705.50,509.27 L705.75,509.16 L706.00,509.08 L706.25,509.14 L706.50,509.22 L706.75,509.38 L707.00,509.29 L707.25,509.04 L707.50,509.04 L707.75,509.20 L708.00,509.42 L708.25,509.33 L708.50,509.22 L708.75,509.33 L709.00,509.32 L709.25,509.45 L709.50,509.41 L709.75,509.43 L710.00,509.30 L710.25,509.39 L710.50,509.42 L710.75,509.44 L711.00,509.40 L711.25,509.32 L711.50,509.32 L711.75,509.26 L712.00,509.13 L712.25,509.19 L712.50,509.21 L712.75,509.28 L713.00,509.45 L713.25,509.25 L713.50,509.20 L713.75,509.40 L714.00,509.41 L714.25,509.41 L714.50,509.33 L714.75,509.22 L715.00,509.40 L715.25,509.44 L715.50,509.42 L715.75,509.45 L716.00,509.46 L716.25,509.46 L716.50,509.45 L716.75,509.40 L717.00,509.45 L717.25,509.45 L717.50,509.41 L717.75,509.35 L718.00,509.25 L718.25,509.29 L718.50,509.20 L718.75,509.23 L719.00,509.21 L719.25,509.36 L719.50,509.28 L719.75,509.31 L720.00,509.44 L720.25,509.38 L720.50,509.31 L720.75,509.24 L721.00,509.31 L721.25,509.31 L721.50,509.37 L721.75,509.46 L722.00,509.40 L722.25,509.47 L722.50,509.31 L722.75,509.33 L723.00,509.23 L723.25,509.20 L723.50,509.19 L723.75,509.34 L724.00,509.43 L724.25,509.46 L724.50,509.33" fill="none" stroke="#0a0a0a" stroke-width="2.35" stroke-linejoin="round" stroke-linecap="round"/>
<path d="M182.50,382.04 L182.75,380.51 L183.00,377.65 L183.25,373.23 L183.50,367.05 L183.75,359.55 L184.00,353.01 L184.25,350.98 L184.50,355.10 L184.75,362.43 L185.00,369.56 L185.25,374.98 L185.50,378.92 L185.75,380.73Z M427.25,354.89 L427.50,353.91 L427.75,352.47 L428.00,351.14 L428.25,349.93 L428.50,348.12 L428.75,346.40 L429.00,344.33 L429.25,342.11 L429.50,339.27 L429.75,336.44 L430.00,332.83 L430.25,328.87 L430.50,323.92 L430.75,318.36 L431.00,312.03 L431.25,303.90 L431.50,293.19 L431.75,275.98 L432.00,246.94 L432.25,203.93 L432.50,151.06 L432.75,105.25 L433.00,86.56 L433.25,107.67 L433.50,162.83 L433.75,230.73 L434.00,291.88 L434.25,335.16Z M382.75,382.86 L383.00,381.80 L383.25,379.79 L383.50,377.75 L383.75,375.51 L384.00,374.46 L384.25,375.35 L384.50,377.67 L384.75,379.87 L385.00,381.50Z" fill="#1f4f9f" stroke="none"/>
<path d="M257.50,504.81 L257.75,503.01 L258.00,500.44 L258.25,496.51 L258.50,491.48 L258.75,486.40 L259.00,484.02 L259.25,486.38 L259.50,491.74 L259.75,496.72 L260.00,500.45 L260.25,503.11 L260.50,504.80Z M283.75,502.93 L284.00,500.86 L284.25,497.77 L284.50,493.06 L284.75,486.44 L285.00,478.15 L285.25,471.18 L285.50,470.48 L285.75,476.47 L286.00,484.69 L286.25,491.69 L286.50,496.54 L286.75,499.84 L287.00,501.87Z M300.50,464.89 L300.75,456.48 L301.00,447.30 L301.25,437.99 L301.50,429.35 L301.75,423.34 L302.00,420.97 L302.25,423.11 L302.50,429.45 L302.75,438.12 L303.00,447.66 L303.25,456.86 L303.50,465.08Z M409.50,506.31 L409.75,505.43 L410.00,503.88 L410.25,501.69 L410.50,498.45 L410.75,494.26 L411.00,490.28 L411.25,488.93 L411.50,491.57 L411.75,495.95 L412.00,499.91 L412.25,502.78 L412.50,504.72 L412.75,505.90Z M497.50,500.95 L497.75,498.13 L498.00,493.99 L498.25,488.45 L498.50,481.61 L498.75,475.07 L499.00,472.28 L499.25,475.07 L499.50,481.59 L499.75,488.53 L500.00,494.15 L500.25,498.16 L500.50,501.09Z M560.00,498.06 L560.25,494.66 L560.50,490.03 L560.75,483.93 L561.00,477.29 L561.25,471.39 L561.50,468.86 L561.75,471.35 L562.00,477.30 L562.25,484.07 L562.50,490.20 L562.75,494.82 L563.00,498.32Z M610.50,490.15 L610.75,485.01 L611.00,478.33 L611.25,470.29 L611.50,461.21 L611.75,452.88 L612.00,447.90 L612.25,448.47 L612.50,454.33 L612.75,462.97 L613.00,471.93 L613.25,479.71 L613.50,486.06 L613.75,491.01Z" fill="#0a0a0a" stroke="none"/>
<rect x="43.5" y="2.0" width="681.2" height="554.4" fill="none" stroke="#0a0a0a" stroke-width="1.8"/>
<path d="M86.08,556.4 v-5.5 M128.65,556.4 v-10.5 M171.23,556.4 v-5.5 M213.80,556.4 v-10.5 M256.38,556.4 v-5.5 M298.95,556.4 v-10.5 M341.53,556.4 v-5.5 M384.10,556.4 v-10.5 M426.68,556.4 v-5.5 M469.25,556.4 v-10.5 M511.83,556.4 v-5.5 M554.40,556.4 v-10.5 M596.98,556.4 v-5.5 M639.55,556.4 v-10.5 M682.12,556.4 v-5.5" stroke="#0a0a0a" stroke-width="1.6" fill="none"/>
<text x="43.5" y="590.6" font-size="28.7" text-anchor="middle">10</text>
<text x="128.7" y="590.6" font-size="28.7" text-anchor="middle">20</text>
<text x="213.8" y="590.6" font-size="28.7" text-anchor="middle">30</text>
<text x="299.0" y="590.6" font-size="28.7" text-anchor="middle">40</text>
<text x="384.1" y="590.6" font-size="28.7" text-anchor="middle">50</text>
<text x="469.2" y="590.6" font-size="28.7" text-anchor="middle">60</text>
<text x="554.4" y="590.6" font-size="28.7" text-anchor="middle">70</text>
<text x="639.6" y="590.6" font-size="28.7" text-anchor="middle">80</text>
<text x="724.7" y="590.6" font-size="28.7" text-anchor="middle">90</text>
<text x="350" y="630.2" font-size="28.65">2</text>
<text class="gr" transform="translate(365.4,630.3) scale(1.16,1)" font-size="32" style="stroke-width:0.15px">θ</text>
<text y="630.2" font-size="28.65"><tspan x="389.4">/</tspan><tspan x="405">(</tspan><tspan x="414.2" font-size="23.5" dy="-6.8">o</tspan><tspan x="428" dy="6.8">)</tspan></text>
<text transform="translate(25.2,367.5) rotate(-90)" font-size="28.65">Intensity / a.u.</text>
<text x="440.5" y="340.6" font-size="28.65">EBM-Ti15Nb2.5Zr4Sn</text>
<text x="666" y="486.8" font-size="28.65">TC4</text>
<text x="618.3" y="36.2" font-size="24.4">●</text>
<text class="gr" transform="translate(640.2,38.7) scale(1.08,1)" font-size="32" style="stroke-width:0.15px">β</text>
<text y="38.3" font-size="28.65"><tspan x="656.3"><tspan dy="0.9">-</tspan><tspan dy="-0.9">Ti</tspan></tspan></text>
<text transform="translate(617.2,68.9) scale(1.07,1)" font-size="26.5" style="stroke:none">♦</text>
<text class="gr" transform="translate(645.6,68.9) scale(1.12,1)" font-size="29.5" style="stroke-width:0.1px">α</text>
<text y="68.8" font-size="28.65"><tspan x="662.6"><tspan dy="0.9">-</tspan><tspan dy="-0.9">Ti</tspan></tspan></text>
<text class="sym" transform="translate(623.4,95.9) scale(-1.06,0.97)" font-size="26.5" text-anchor="middle" style="stroke:none">∇</text>
<text class="gr" transform="translate(643.4,95.9) scale(1.12,1)" font-size="29.5" style="stroke-width:0.1px">α</text>
<text class="gr" x="658.8" y="97.5" font-size="36" style="stroke:none">″</text>
<text y="95.8" font-size="28.65"><tspan x="671.6"><tspan dy="0.9">-</tspan><tspan dy="-0.9">Ti</tspan></tspan></text>
<circle cx="286.4" cy="317.6" r="3.6" fill="#0a0a0a"/>
<circle cx="433.4" cy="78.6" r="3.6" fill="#0a0a0a"/>
<circle cx="292.4" cy="473.2" r="3.6" fill="#0a0a0a"/>
<path d="M261.00,459.85 L265.70,465.70 L261.00,471.55 L256.30,465.70 Z" fill="#0a0a0a"/>
<path d="M286.50,448.95 L291.20,454.80 L286.50,460.65 L281.80,454.80 Z" fill="#0a0a0a"/>
<path d="M303.40,412.65 L308.10,418.50 L303.40,424.35 L298.70,418.50 Z" fill="#0a0a0a"/>
<path d="M410.50,463.15 L415.20,469.00 L410.50,474.85 L405.80,469.00 Z" fill="#0a0a0a"/>
<path d="M497.70,450.65 L502.40,456.50 L497.70,462.35 L493.00,456.50 Z" fill="#0a0a0a"/>
<path d="M561.50,448.55 L566.20,454.40 L561.50,460.25 L556.80,454.40 Z" fill="#0a0a0a"/>
<path d="M611.00,433.45 L615.70,439.30 L611.00,445.15 L606.30,439.30 Z" fill="#0a0a0a"/>
<text class="sym" transform="translate(311.6,361.8) scale(-1,1)" font-size="19.5" text-anchor="middle" style="stroke:none">∇</text>
<text class="sym" transform="translate(554,367.8) scale(-1,1)" font-size="19.5" text-anchor="middle" style="stroke:none">∇</text>
</svg>
</body></html>
